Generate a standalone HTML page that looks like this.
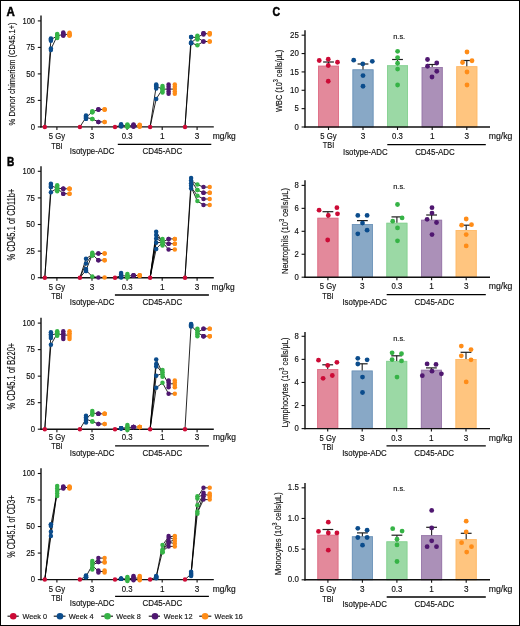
<!DOCTYPE html>
<html><head><meta charset="utf-8"><style>
html,body{margin:0;padding:0;background:#fff;}
body{width:520px;height:626px;overflow:hidden;}
.frame{position:absolute;left:0;top:0;width:520px;height:626px;box-sizing:border-box;border:1px solid #000;}
svg{position:absolute;left:0;top:0;will-change:transform;}
text{font-family:"Liberation Sans", sans-serif;stroke:#111;stroke-width:0.15px;}
</style></head><body>
<svg width="520" height="626" viewBox="0 0 520 626">
<rect x="0" y="0" width="520" height="626" fill="#fff"/>
<line x1="41.0" y1="15.5" x2="41.0" y2="127.5" stroke="#111111" stroke-width="1.4"/>
<line x1="40.4" y1="126.9" x2="213.8" y2="126.9" stroke="#111111" stroke-width="1.4"/>
<line x1="37.8" y1="126.9" x2="41.0" y2="126.9" stroke="#111111" stroke-width="1.1"/>
<text x="35.0" y="129.5" font-size="8.2" text-anchor="end" font-weight="normal" fill="#111111" textLength="4.3" lengthAdjust="spacingAndGlyphs">0</text>
<line x1="37.8" y1="100.4" x2="41.0" y2="100.4" stroke="#111111" stroke-width="1.1"/>
<text x="35.0" y="103.0" font-size="8.2" text-anchor="end" font-weight="normal" fill="#111111" textLength="8.8" lengthAdjust="spacingAndGlyphs">25</text>
<line x1="37.8" y1="73.9" x2="41.0" y2="73.9" stroke="#111111" stroke-width="1.1"/>
<text x="35.0" y="76.5" font-size="8.2" text-anchor="end" font-weight="normal" fill="#111111" textLength="8.8" lengthAdjust="spacingAndGlyphs">50</text>
<line x1="37.8" y1="47.400000000000006" x2="41.0" y2="47.400000000000006" stroke="#111111" stroke-width="1.1"/>
<text x="35.0" y="50.00000000000001" font-size="8.2" text-anchor="end" font-weight="normal" fill="#111111" textLength="8.8" lengthAdjust="spacingAndGlyphs">75</text>
<line x1="37.8" y1="20.900000000000006" x2="41.0" y2="20.900000000000006" stroke="#111111" stroke-width="1.1"/>
<text x="35.0" y="23.500000000000007" font-size="8.2" text-anchor="end" font-weight="normal" fill="#111111" textLength="12.5" lengthAdjust="spacingAndGlyphs">100</text>
<line x1="56.9" y1="126.9" x2="56.9" y2="129.9" stroke="#111111" stroke-width="1.1"/>
<line x1="92.0" y1="126.9" x2="92.0" y2="129.9" stroke="#111111" stroke-width="1.1"/>
<line x1="127.1" y1="126.9" x2="127.1" y2="129.9" stroke="#111111" stroke-width="1.1"/>
<line x1="162.2" y1="126.9" x2="162.2" y2="129.9" stroke="#111111" stroke-width="1.1"/>
<line x1="197.1" y1="126.9" x2="197.1" y2="129.9" stroke="#111111" stroke-width="1.1"/>
<text x="56.9" y="139.1" font-size="8.2" text-anchor="middle" font-weight="normal" fill="#111111" textLength="16.3" lengthAdjust="spacingAndGlyphs">5 Gy</text>
<text x="56.9" y="148.6" font-size="8.2" text-anchor="middle" font-weight="normal" fill="#111111" textLength="11.4" lengthAdjust="spacingAndGlyphs">TBI</text>
<text x="92.0" y="139.1" font-size="8.2" text-anchor="middle" font-weight="normal" fill="#111111">3</text>
<text x="127.1" y="139.1" font-size="8.2" text-anchor="middle" font-weight="normal" fill="#111111" textLength="10.8" lengthAdjust="spacingAndGlyphs">0.3</text>
<text x="162.2" y="139.1" font-size="8.2" text-anchor="middle" font-weight="normal" fill="#111111">1</text>
<text x="197.1" y="139.1" font-size="8.2" text-anchor="middle" font-weight="normal" fill="#111111">3</text>
<text x="212.8" y="139.1" font-size="8.2" text-anchor="start" font-weight="normal" fill="#111111" textLength="23.0" lengthAdjust="spacingAndGlyphs">mg/kg</text>
<line x1="117.8" y1="144.4" x2="211.3" y2="144.4" stroke="#000" stroke-width="1.3"/>
<text x="92.1" y="154.1" font-size="8.2" text-anchor="middle" font-weight="normal" fill="#111111" textLength="44.6" lengthAdjust="spacingAndGlyphs">Isotype-ADC</text>
<text x="162.3" y="154.1" font-size="8.2" text-anchor="middle" font-weight="normal" fill="#111111" textLength="39.7" lengthAdjust="spacingAndGlyphs">CD45-ADC</text>
<text x="15.2" y="73.9" font-size="9.8" text-anchor="middle" font-weight="normal" fill="#111111" textLength="103" lengthAdjust="spacingAndGlyphs" transform="rotate(-90 15.2 73.9)">% Donor chimerism (CD45.1+)</text>
<line x1="44.8" y1="126.9" x2="50.9" y2="39.6" stroke="#000" stroke-width="0.85"/>
<line x1="44.8" y1="126.9" x2="50.9" y2="49.2" stroke="#000" stroke-width="0.85"/>
<line x1="50.9" y1="39.6" x2="57.2" y2="36.0" stroke="#000" stroke-width="0.85"/>
<line x1="50.9" y1="49.2" x2="57.2" y2="36.0" stroke="#000" stroke-width="0.85"/>
<line x1="57.2" y1="36.0" x2="63.3" y2="34.3" stroke="#000" stroke-width="0.85"/>
<line x1="63.3" y1="34.3" x2="69.5" y2="34.5" stroke="#000" stroke-width="0.85"/>
<line x1="79.9" y1="126.9" x2="86.0" y2="117.4" stroke="#000" stroke-width="0.85"/>
<line x1="86.0" y1="117.4" x2="92.3" y2="111.9" stroke="#000" stroke-width="0.85"/>
<line x1="86.0" y1="117.4" x2="92.3" y2="119.0" stroke="#000" stroke-width="0.85"/>
<line x1="92.3" y1="111.9" x2="98.4" y2="109.4" stroke="#000" stroke-width="0.85"/>
<line x1="92.3" y1="119.0" x2="98.4" y2="121.9" stroke="#000" stroke-width="0.85"/>
<line x1="98.4" y1="109.4" x2="104.6" y2="109.5" stroke="#000" stroke-width="0.85"/>
<line x1="98.4" y1="121.9" x2="104.6" y2="121.9" stroke="#000" stroke-width="0.85"/>
<line x1="115.0" y1="126.9" x2="121.1" y2="125.4" stroke="#000" stroke-width="0.85"/>
<line x1="121.1" y1="125.4" x2="127.4" y2="125.8" stroke="#000" stroke-width="0.85"/>
<line x1="127.4" y1="125.8" x2="133.5" y2="125.6" stroke="#000" stroke-width="0.85"/>
<line x1="133.5" y1="125.6" x2="139.7" y2="125.8" stroke="#000" stroke-width="0.85"/>
<line x1="150.1" y1="126.9" x2="156.2" y2="86.2" stroke="#000" stroke-width="0.85"/>
<line x1="150.1" y1="126.9" x2="156.2" y2="98.9" stroke="#000" stroke-width="0.85"/>
<line x1="156.2" y1="86.2" x2="162.5" y2="89.2" stroke="#000" stroke-width="0.85"/>
<line x1="156.2" y1="98.9" x2="162.5" y2="89.2" stroke="#000" stroke-width="0.85"/>
<line x1="162.5" y1="89.2" x2="168.6" y2="89.1" stroke="#000" stroke-width="0.85"/>
<line x1="168.6" y1="89.1" x2="174.8" y2="89.1" stroke="#000" stroke-width="0.85"/>
<line x1="185.0" y1="126.9" x2="191.1" y2="37.1" stroke="#000" stroke-width="0.85"/>
<line x1="185.0" y1="126.9" x2="191.1" y2="42.9" stroke="#000" stroke-width="0.85"/>
<line x1="191.1" y1="37.1" x2="197.4" y2="37.6" stroke="#000" stroke-width="0.85"/>
<line x1="191.1" y1="42.9" x2="197.4" y2="37.6" stroke="#000" stroke-width="0.85"/>
<line x1="191.1" y1="42.9" x2="197.4" y2="45.2" stroke="#000" stroke-width="0.85"/>
<line x1="197.4" y1="37.6" x2="203.5" y2="33.7" stroke="#000" stroke-width="0.85"/>
<line x1="197.4" y1="37.6" x2="203.5" y2="41.5" stroke="#000" stroke-width="0.85"/>
<line x1="197.4" y1="45.2" x2="203.5" y2="41.5" stroke="#000" stroke-width="0.85"/>
<line x1="203.5" y1="33.7" x2="209.7" y2="33.7" stroke="#000" stroke-width="0.85"/>
<line x1="203.5" y1="41.5" x2="209.7" y2="41.5" stroke="#000" stroke-width="0.85"/>
<circle cx="44.8" cy="126.9" r="2.25" fill="#cc0b36"/>
<circle cx="50.9" cy="38.6" r="2.25" fill="#0b4c8c"/>
<circle cx="50.9" cy="39.5" r="2.25" fill="#0b4c8c"/>
<circle cx="50.9" cy="40.7" r="2.25" fill="#0b4c8c"/>
<circle cx="50.9" cy="48.6" r="2.25" fill="#0b4c8c"/>
<circle cx="50.9" cy="49.9" r="2.25" fill="#0b4c8c"/>
<circle cx="57.199999999999996" cy="33.9" r="2.25" fill="#36b346"/>
<circle cx="57.199999999999996" cy="35" r="2.25" fill="#36b346"/>
<circle cx="57.199999999999996" cy="36" r="2.25" fill="#36b346"/>
<circle cx="57.199999999999996" cy="37" r="2.25" fill="#36b346"/>
<circle cx="57.199999999999996" cy="38" r="2.25" fill="#36b346"/>
<circle cx="63.3" cy="32.4" r="2.25" fill="#4f1770"/>
<circle cx="63.3" cy="33.5" r="2.25" fill="#4f1770"/>
<circle cx="63.3" cy="34.5" r="2.25" fill="#4f1770"/>
<circle cx="63.3" cy="35.6" r="2.25" fill="#4f1770"/>
<circle cx="63.3" cy="35.6" r="2.25" fill="#4f1770"/>
<circle cx="69.5" cy="32.8" r="2.25" fill="#ff8c17"/>
<circle cx="69.5" cy="33.8" r="2.25" fill="#ff8c17"/>
<circle cx="69.5" cy="34.7" r="2.25" fill="#ff8c17"/>
<circle cx="69.5" cy="35.6" r="2.25" fill="#ff8c17"/>
<circle cx="69.5" cy="35.6" r="2.25" fill="#ff8c17"/>
<circle cx="79.9" cy="126.9" r="2.25" fill="#cc0b36"/>
<circle cx="86.0" cy="115.4" r="2.25" fill="#0b4c8c"/>
<circle cx="86.0" cy="116.5" r="2.25" fill="#0b4c8c"/>
<circle cx="86.0" cy="117.5" r="2.25" fill="#0b4c8c"/>
<circle cx="86.0" cy="118.8" r="2.25" fill="#0b4c8c"/>
<circle cx="86.0" cy="118.8" r="2.25" fill="#0b4c8c"/>
<circle cx="92.3" cy="111.2" r="2.25" fill="#36b346"/>
<circle cx="92.3" cy="112.2" r="2.25" fill="#36b346"/>
<circle cx="92.3" cy="112.2" r="2.25" fill="#36b346"/>
<circle cx="92.3" cy="119" r="2.25" fill="#36b346"/>
<circle cx="92.3" cy="119" r="2.25" fill="#36b346"/>
<circle cx="98.4" cy="109.4" r="2.25" fill="#4f1770"/>
<circle cx="98.4" cy="109.4" r="2.25" fill="#4f1770"/>
<circle cx="98.4" cy="109.4" r="2.25" fill="#4f1770"/>
<circle cx="98.4" cy="121.9" r="2.25" fill="#4f1770"/>
<circle cx="98.4" cy="121.9" r="2.25" fill="#4f1770"/>
<circle cx="104.6" cy="109.5" r="2.25" fill="#ff8c17"/>
<circle cx="104.6" cy="109.5" r="2.25" fill="#ff8c17"/>
<circle cx="104.6" cy="109.5" r="2.25" fill="#ff8c17"/>
<circle cx="104.6" cy="121.9" r="2.25" fill="#ff8c17"/>
<circle cx="104.6" cy="121.9" r="2.25" fill="#ff8c17"/>
<circle cx="115.0" cy="126.9" r="2.25" fill="#cc0b36"/>
<circle cx="121.1" cy="124.2" r="2.25" fill="#0b4c8c"/>
<circle cx="121.1" cy="125" r="2.25" fill="#0b4c8c"/>
<circle cx="121.1" cy="125.5" r="2.25" fill="#0b4c8c"/>
<circle cx="121.1" cy="126" r="2.25" fill="#0b4c8c"/>
<circle cx="121.1" cy="126.5" r="2.25" fill="#0b4c8c"/>
<circle cx="127.39999999999999" cy="124.6" r="2.25" fill="#36b346"/>
<circle cx="127.39999999999999" cy="125.2" r="2.25" fill="#36b346"/>
<circle cx="127.39999999999999" cy="125.8" r="2.25" fill="#36b346"/>
<circle cx="127.39999999999999" cy="126.4" r="2.25" fill="#36b346"/>
<circle cx="127.39999999999999" cy="127" r="2.25" fill="#36b346"/>
<circle cx="133.5" cy="124.5" r="2.25" fill="#4f1770"/>
<circle cx="133.5" cy="125" r="2.25" fill="#4f1770"/>
<circle cx="133.5" cy="125.6" r="2.25" fill="#4f1770"/>
<circle cx="133.5" cy="126.2" r="2.25" fill="#4f1770"/>
<circle cx="133.5" cy="126.8" r="2.25" fill="#4f1770"/>
<circle cx="139.7" cy="124.8" r="2.25" fill="#ff8c17"/>
<circle cx="139.7" cy="125.3" r="2.25" fill="#ff8c17"/>
<circle cx="139.7" cy="125.8" r="2.25" fill="#ff8c17"/>
<circle cx="139.7" cy="126.3" r="2.25" fill="#ff8c17"/>
<circle cx="139.7" cy="126.8" r="2.25" fill="#ff8c17"/>
<circle cx="150.1" cy="126.9" r="2.25" fill="#cc0b36"/>
<circle cx="156.2" cy="84.5" r="2.25" fill="#0b4c8c"/>
<circle cx="156.2" cy="85.5" r="2.25" fill="#0b4c8c"/>
<circle cx="156.2" cy="86.5" r="2.25" fill="#0b4c8c"/>
<circle cx="156.2" cy="88.5" r="2.25" fill="#0b4c8c"/>
<circle cx="156.2" cy="98.9" r="2.25" fill="#0b4c8c"/>
<circle cx="162.5" cy="85.9" r="2.25" fill="#36b346"/>
<circle cx="162.5" cy="87.5" r="2.25" fill="#36b346"/>
<circle cx="162.5" cy="89.2" r="2.25" fill="#36b346"/>
<circle cx="162.5" cy="90.8" r="2.25" fill="#36b346"/>
<circle cx="162.5" cy="92.5" r="2.25" fill="#36b346"/>
<circle cx="168.6" cy="84.5" r="2.25" fill="#4f1770"/>
<circle cx="168.6" cy="86.8" r="2.25" fill="#4f1770"/>
<circle cx="168.6" cy="89.1" r="2.25" fill="#4f1770"/>
<circle cx="168.6" cy="91.5" r="2.25" fill="#4f1770"/>
<circle cx="168.6" cy="93.8" r="2.25" fill="#4f1770"/>
<circle cx="174.79999999999998" cy="84.5" r="2.25" fill="#ff8c17"/>
<circle cx="174.79999999999998" cy="86.8" r="2.25" fill="#ff8c17"/>
<circle cx="174.79999999999998" cy="89.1" r="2.25" fill="#ff8c17"/>
<circle cx="174.79999999999998" cy="91.5" r="2.25" fill="#ff8c17"/>
<circle cx="174.79999999999998" cy="93.8" r="2.25" fill="#ff8c17"/>
<circle cx="185.0" cy="126.9" r="2.25" fill="#cc0b36"/>
<circle cx="191.1" cy="37.1" r="2.25" fill="#0b4c8c"/>
<circle cx="191.1" cy="37.1" r="2.25" fill="#0b4c8c"/>
<circle cx="191.1" cy="42.5" r="2.25" fill="#0b4c8c"/>
<circle cx="191.1" cy="43" r="2.25" fill="#0b4c8c"/>
<circle cx="191.1" cy="43.2" r="2.25" fill="#0b4c8c"/>
<circle cx="197.4" cy="35.8" r="2.25" fill="#36b346"/>
<circle cx="197.4" cy="37" r="2.25" fill="#36b346"/>
<circle cx="197.4" cy="38.2" r="2.25" fill="#36b346"/>
<circle cx="197.4" cy="39.4" r="2.25" fill="#36b346"/>
<circle cx="197.4" cy="45.2" r="2.25" fill="#36b346"/>
<circle cx="203.5" cy="33.3" r="2.25" fill="#4f1770"/>
<circle cx="203.5" cy="33.3" r="2.25" fill="#4f1770"/>
<circle cx="203.5" cy="34.4" r="2.25" fill="#4f1770"/>
<circle cx="203.5" cy="41.5" r="2.25" fill="#4f1770"/>
<circle cx="203.5" cy="41.5" r="2.25" fill="#4f1770"/>
<circle cx="209.7" cy="33.3" r="2.25" fill="#ff8c17"/>
<circle cx="209.7" cy="33.3" r="2.25" fill="#ff8c17"/>
<circle cx="209.7" cy="34.4" r="2.25" fill="#ff8c17"/>
<circle cx="209.7" cy="41.5" r="2.25" fill="#ff8c17"/>
<circle cx="209.7" cy="41.5" r="2.25" fill="#ff8c17"/>
<line x1="41.0" y1="166.3" x2="41.0" y2="278.3" stroke="#111111" stroke-width="1.4"/>
<line x1="40.4" y1="277.7" x2="213.8" y2="277.7" stroke="#111111" stroke-width="1.4"/>
<line x1="37.8" y1="277.7" x2="41.0" y2="277.7" stroke="#111111" stroke-width="1.1"/>
<text x="35.0" y="280.3" font-size="8.2" text-anchor="end" font-weight="normal" fill="#111111" textLength="4.3" lengthAdjust="spacingAndGlyphs">0</text>
<line x1="37.8" y1="251.1" x2="41.0" y2="251.1" stroke="#111111" stroke-width="1.1"/>
<text x="35.0" y="253.7" font-size="8.2" text-anchor="end" font-weight="normal" fill="#111111" textLength="8.8" lengthAdjust="spacingAndGlyphs">25</text>
<line x1="37.8" y1="224.5" x2="41.0" y2="224.5" stroke="#111111" stroke-width="1.1"/>
<text x="35.0" y="227.1" font-size="8.2" text-anchor="end" font-weight="normal" fill="#111111" textLength="8.8" lengthAdjust="spacingAndGlyphs">50</text>
<line x1="37.8" y1="197.9" x2="41.0" y2="197.9" stroke="#111111" stroke-width="1.1"/>
<text x="35.0" y="200.5" font-size="8.2" text-anchor="end" font-weight="normal" fill="#111111" textLength="8.8" lengthAdjust="spacingAndGlyphs">75</text>
<line x1="37.8" y1="171.3" x2="41.0" y2="171.3" stroke="#111111" stroke-width="1.1"/>
<text x="35.0" y="173.9" font-size="8.2" text-anchor="end" font-weight="normal" fill="#111111" textLength="12.5" lengthAdjust="spacingAndGlyphs">100</text>
<line x1="56.9" y1="277.7" x2="56.9" y2="280.7" stroke="#111111" stroke-width="1.1"/>
<line x1="92.0" y1="277.7" x2="92.0" y2="280.7" stroke="#111111" stroke-width="1.1"/>
<line x1="127.1" y1="277.7" x2="127.1" y2="280.7" stroke="#111111" stroke-width="1.1"/>
<line x1="162.2" y1="277.7" x2="162.2" y2="280.7" stroke="#111111" stroke-width="1.1"/>
<line x1="197.1" y1="277.7" x2="197.1" y2="280.7" stroke="#111111" stroke-width="1.1"/>
<text x="56.9" y="289.8" font-size="8.2" text-anchor="middle" font-weight="normal" fill="#111111" textLength="16.3" lengthAdjust="spacingAndGlyphs">5 Gy</text>
<text x="56.9" y="299.3" font-size="8.2" text-anchor="middle" font-weight="normal" fill="#111111" textLength="11.4" lengthAdjust="spacingAndGlyphs">TBI</text>
<text x="92.0" y="289.8" font-size="8.2" text-anchor="middle" font-weight="normal" fill="#111111">3</text>
<text x="127.1" y="289.8" font-size="8.2" text-anchor="middle" font-weight="normal" fill="#111111" textLength="10.8" lengthAdjust="spacingAndGlyphs">0.3</text>
<text x="162.2" y="289.8" font-size="8.2" text-anchor="middle" font-weight="normal" fill="#111111">1</text>
<text x="197.1" y="289.8" font-size="8.2" text-anchor="middle" font-weight="normal" fill="#111111">3</text>
<text x="211.6" y="289.8" font-size="8.2" text-anchor="start" font-weight="normal" fill="#111111" textLength="23.0" lengthAdjust="spacingAndGlyphs">mg/kg</text>
<line x1="114.9" y1="295.0" x2="208.9" y2="295.0" stroke="#000" stroke-width="1.3"/>
<text x="92.1" y="304.8" font-size="8.2" text-anchor="middle" font-weight="normal" fill="#111111" textLength="44.6" lengthAdjust="spacingAndGlyphs">Isotype-ADC</text>
<text x="162.3" y="304.8" font-size="8.2" text-anchor="middle" font-weight="normal" fill="#111111" textLength="39.7" lengthAdjust="spacingAndGlyphs">CD45-ADC</text>
<text x="15.2" y="224.5" font-size="10.8" text-anchor="middle" font-weight="normal" fill="#111111" textLength="71.8" lengthAdjust="spacingAndGlyphs" transform="rotate(-90 15.2 224.5)">% CD45.1 of CD11b+</text>
<line x1="44.8" y1="277.7" x2="50.9" y2="185.7" stroke="#000" stroke-width="0.85"/>
<line x1="44.8" y1="277.7" x2="50.9" y2="192.3" stroke="#000" stroke-width="0.85"/>
<line x1="50.9" y1="185.7" x2="57.2" y2="188.2" stroke="#000" stroke-width="0.85"/>
<line x1="50.9" y1="192.3" x2="57.2" y2="188.2" stroke="#000" stroke-width="0.85"/>
<line x1="57.2" y1="188.2" x2="63.3" y2="188.8" stroke="#000" stroke-width="0.85"/>
<line x1="57.2" y1="188.2" x2="63.3" y2="193.7" stroke="#000" stroke-width="0.85"/>
<line x1="63.3" y1="188.8" x2="69.5" y2="188.8" stroke="#000" stroke-width="0.85"/>
<line x1="63.3" y1="193.7" x2="69.5" y2="193.7" stroke="#000" stroke-width="0.85"/>
<line x1="79.9" y1="277.7" x2="86.0" y2="258.8" stroke="#000" stroke-width="0.85"/>
<line x1="79.9" y1="277.7" x2="86.0" y2="263.6" stroke="#000" stroke-width="0.85"/>
<line x1="79.9" y1="277.7" x2="86.0" y2="270.3" stroke="#000" stroke-width="0.85"/>
<line x1="86.0" y1="258.8" x2="92.3" y2="254.4" stroke="#000" stroke-width="0.85"/>
<line x1="86.0" y1="263.6" x2="92.3" y2="254.4" stroke="#000" stroke-width="0.85"/>
<line x1="86.0" y1="270.3" x2="92.3" y2="254.4" stroke="#000" stroke-width="0.85"/>
<line x1="86.0" y1="270.3" x2="92.3" y2="276.6" stroke="#000" stroke-width="0.85"/>
<line x1="92.3" y1="254.4" x2="98.4" y2="253.5" stroke="#000" stroke-width="0.85"/>
<line x1="92.3" y1="254.4" x2="98.4" y2="260.2" stroke="#000" stroke-width="0.85"/>
<line x1="92.3" y1="276.6" x2="98.4" y2="277.4" stroke="#000" stroke-width="0.85"/>
<line x1="98.4" y1="253.5" x2="104.6" y2="253.5" stroke="#000" stroke-width="0.85"/>
<line x1="98.4" y1="260.2" x2="104.6" y2="260.2" stroke="#000" stroke-width="0.85"/>
<line x1="98.4" y1="277.4" x2="104.6" y2="277.4" stroke="#000" stroke-width="0.85"/>
<line x1="115.0" y1="277.7" x2="121.1" y2="275.6" stroke="#000" stroke-width="0.85"/>
<line x1="121.1" y1="275.6" x2="127.4" y2="276.1" stroke="#000" stroke-width="0.85"/>
<line x1="127.4" y1="276.1" x2="133.5" y2="275.5" stroke="#000" stroke-width="0.85"/>
<line x1="133.5" y1="275.5" x2="139.7" y2="275.5" stroke="#000" stroke-width="0.85"/>
<line x1="150.1" y1="277.7" x2="156.2" y2="231.8" stroke="#000" stroke-width="0.85"/>
<line x1="150.1" y1="277.7" x2="156.2" y2="235.0" stroke="#000" stroke-width="0.85"/>
<line x1="150.1" y1="277.7" x2="156.2" y2="238.5" stroke="#000" stroke-width="0.85"/>
<line x1="150.1" y1="277.7" x2="156.2" y2="242.7" stroke="#000" stroke-width="0.85"/>
<line x1="150.1" y1="277.7" x2="156.2" y2="248.9" stroke="#000" stroke-width="0.85"/>
<line x1="156.2" y1="231.8" x2="162.5" y2="242.2" stroke="#000" stroke-width="0.85"/>
<line x1="156.2" y1="235.0" x2="162.5" y2="242.2" stroke="#000" stroke-width="0.85"/>
<line x1="156.2" y1="238.5" x2="162.5" y2="242.2" stroke="#000" stroke-width="0.85"/>
<line x1="156.2" y1="242.7" x2="162.5" y2="242.2" stroke="#000" stroke-width="0.85"/>
<line x1="156.2" y1="248.9" x2="162.5" y2="242.2" stroke="#000" stroke-width="0.85"/>
<line x1="162.5" y1="242.2" x2="168.6" y2="238.9" stroke="#000" stroke-width="0.85"/>
<line x1="162.5" y1="242.2" x2="168.6" y2="243.7" stroke="#000" stroke-width="0.85"/>
<line x1="162.5" y1="242.2" x2="168.6" y2="249.5" stroke="#000" stroke-width="0.85"/>
<line x1="168.6" y1="238.9" x2="174.8" y2="238.9" stroke="#000" stroke-width="0.85"/>
<line x1="168.6" y1="243.7" x2="174.8" y2="243.7" stroke="#000" stroke-width="0.85"/>
<line x1="168.6" y1="249.5" x2="174.8" y2="249.5" stroke="#000" stroke-width="0.85"/>
<line x1="185.0" y1="277.7" x2="191.1" y2="180.6" stroke="#000" stroke-width="0.85"/>
<line x1="185.0" y1="277.7" x2="191.1" y2="187.1" stroke="#000" stroke-width="0.85"/>
<line x1="191.1" y1="180.6" x2="197.4" y2="184.6" stroke="#000" stroke-width="0.85"/>
<line x1="191.1" y1="180.6" x2="197.4" y2="190.0" stroke="#000" stroke-width="0.85"/>
<line x1="191.1" y1="187.1" x2="197.4" y2="195.7" stroke="#000" stroke-width="0.85"/>
<line x1="191.1" y1="187.1" x2="197.4" y2="201.1" stroke="#000" stroke-width="0.85"/>
<line x1="197.4" y1="184.6" x2="203.5" y2="187.1" stroke="#000" stroke-width="0.85"/>
<line x1="197.4" y1="190.0" x2="203.5" y2="192.8" stroke="#000" stroke-width="0.85"/>
<line x1="197.4" y1="195.7" x2="203.5" y2="199.0" stroke="#000" stroke-width="0.85"/>
<line x1="197.4" y1="201.1" x2="203.5" y2="204.9" stroke="#000" stroke-width="0.85"/>
<line x1="203.5" y1="187.1" x2="209.7" y2="187.1" stroke="#000" stroke-width="0.85"/>
<line x1="203.5" y1="192.8" x2="209.7" y2="192.8" stroke="#000" stroke-width="0.85"/>
<line x1="203.5" y1="199.0" x2="209.7" y2="199.0" stroke="#000" stroke-width="0.85"/>
<line x1="203.5" y1="204.9" x2="209.7" y2="204.9" stroke="#000" stroke-width="0.85"/>
<circle cx="44.8" cy="277.7" r="2.25" fill="#cc0b36"/>
<circle cx="50.9" cy="183.8" r="2.25" fill="#0b4c8c"/>
<circle cx="50.9" cy="185" r="2.25" fill="#0b4c8c"/>
<circle cx="50.9" cy="186.9" r="2.25" fill="#0b4c8c"/>
<circle cx="50.9" cy="186.9" r="2.25" fill="#0b4c8c"/>
<circle cx="50.9" cy="192.3" r="2.25" fill="#0b4c8c"/>
<circle cx="57.199999999999996" cy="185.2" r="2.25" fill="#36b346"/>
<circle cx="57.199999999999996" cy="186.7" r="2.25" fill="#36b346"/>
<circle cx="57.199999999999996" cy="188.2" r="2.25" fill="#36b346"/>
<circle cx="57.199999999999996" cy="189.7" r="2.25" fill="#36b346"/>
<circle cx="57.199999999999996" cy="191.2" r="2.25" fill="#36b346"/>
<circle cx="63.3" cy="188.8" r="2.25" fill="#4f1770"/>
<circle cx="63.3" cy="188.8" r="2.25" fill="#4f1770"/>
<circle cx="63.3" cy="188.8" r="2.25" fill="#4f1770"/>
<circle cx="63.3" cy="193.7" r="2.25" fill="#4f1770"/>
<circle cx="63.3" cy="193.7" r="2.25" fill="#4f1770"/>
<circle cx="69.5" cy="188.8" r="2.25" fill="#ff8c17"/>
<circle cx="69.5" cy="188.8" r="2.25" fill="#ff8c17"/>
<circle cx="69.5" cy="188.8" r="2.25" fill="#ff8c17"/>
<circle cx="69.5" cy="193.7" r="2.25" fill="#ff8c17"/>
<circle cx="69.5" cy="193.7" r="2.25" fill="#ff8c17"/>
<circle cx="79.9" cy="277.7" r="2.25" fill="#cc0b36"/>
<circle cx="86.0" cy="258.8" r="2.25" fill="#0b4c8c"/>
<circle cx="86.0" cy="263.6" r="2.25" fill="#0b4c8c"/>
<circle cx="86.0" cy="268.9" r="2.25" fill="#0b4c8c"/>
<circle cx="86.0" cy="271" r="2.25" fill="#0b4c8c"/>
<circle cx="86.0" cy="271" r="2.25" fill="#0b4c8c"/>
<circle cx="92.3" cy="252.8" r="2.25" fill="#36b346"/>
<circle cx="92.3" cy="254" r="2.25" fill="#36b346"/>
<circle cx="92.3" cy="255.5" r="2.25" fill="#36b346"/>
<circle cx="92.3" cy="255.5" r="2.25" fill="#36b346"/>
<circle cx="92.3" cy="276.6" r="2.25" fill="#36b346"/>
<circle cx="98.4" cy="253.5" r="2.25" fill="#4f1770"/>
<circle cx="98.4" cy="253.5" r="2.25" fill="#4f1770"/>
<circle cx="98.4" cy="260.2" r="2.25" fill="#4f1770"/>
<circle cx="98.4" cy="260.2" r="2.25" fill="#4f1770"/>
<circle cx="98.4" cy="277.4" r="2.25" fill="#4f1770"/>
<circle cx="104.6" cy="253.5" r="2.25" fill="#ff8c17"/>
<circle cx="104.6" cy="253.5" r="2.25" fill="#ff8c17"/>
<circle cx="104.6" cy="260.2" r="2.25" fill="#ff8c17"/>
<circle cx="104.6" cy="260.2" r="2.25" fill="#ff8c17"/>
<circle cx="104.6" cy="277.4" r="2.25" fill="#ff8c17"/>
<circle cx="115.0" cy="277.7" r="2.25" fill="#cc0b36"/>
<circle cx="121.1" cy="273" r="2.25" fill="#0b4c8c"/>
<circle cx="121.1" cy="274.5" r="2.25" fill="#0b4c8c"/>
<circle cx="121.1" cy="276" r="2.25" fill="#0b4c8c"/>
<circle cx="121.1" cy="277" r="2.25" fill="#0b4c8c"/>
<circle cx="121.1" cy="277.5" r="2.25" fill="#0b4c8c"/>
<circle cx="127.39999999999999" cy="274" r="2.25" fill="#36b346"/>
<circle cx="127.39999999999999" cy="275.5" r="2.25" fill="#36b346"/>
<circle cx="127.39999999999999" cy="276.5" r="2.25" fill="#36b346"/>
<circle cx="127.39999999999999" cy="277" r="2.25" fill="#36b346"/>
<circle cx="127.39999999999999" cy="277.5" r="2.25" fill="#36b346"/>
<circle cx="133.5" cy="275.5" r="2.25" fill="#4f1770"/>
<circle cx="133.5" cy="275.5" r="2.25" fill="#4f1770"/>
<circle cx="133.5" cy="275.5" r="2.25" fill="#4f1770"/>
<circle cx="133.5" cy="275.5" r="2.25" fill="#4f1770"/>
<circle cx="133.5" cy="275.5" r="2.25" fill="#4f1770"/>
<circle cx="139.7" cy="275.5" r="2.25" fill="#ff8c17"/>
<circle cx="139.7" cy="275.5" r="2.25" fill="#ff8c17"/>
<circle cx="139.7" cy="275.5" r="2.25" fill="#ff8c17"/>
<circle cx="139.7" cy="275.5" r="2.25" fill="#ff8c17"/>
<circle cx="139.7" cy="275.5" r="2.25" fill="#ff8c17"/>
<circle cx="150.1" cy="277.7" r="2.25" fill="#cc0b36"/>
<circle cx="156.2" cy="231.8" r="2.25" fill="#0b4c8c"/>
<circle cx="156.2" cy="235" r="2.25" fill="#0b4c8c"/>
<circle cx="156.2" cy="238.5" r="2.25" fill="#0b4c8c"/>
<circle cx="156.2" cy="242.7" r="2.25" fill="#0b4c8c"/>
<circle cx="156.2" cy="248.9" r="2.25" fill="#0b4c8c"/>
<circle cx="162.5" cy="238.9" r="2.25" fill="#36b346"/>
<circle cx="162.5" cy="240.5" r="2.25" fill="#36b346"/>
<circle cx="162.5" cy="242.2" r="2.25" fill="#36b346"/>
<circle cx="162.5" cy="243.9" r="2.25" fill="#36b346"/>
<circle cx="162.5" cy="245.6" r="2.25" fill="#36b346"/>
<circle cx="168.6" cy="238.9" r="2.25" fill="#4f1770"/>
<circle cx="168.6" cy="238.9" r="2.25" fill="#4f1770"/>
<circle cx="168.6" cy="243.7" r="2.25" fill="#4f1770"/>
<circle cx="168.6" cy="243.7" r="2.25" fill="#4f1770"/>
<circle cx="168.6" cy="249.5" r="2.25" fill="#4f1770"/>
<circle cx="174.79999999999998" cy="238.9" r="2.25" fill="#ff8c17"/>
<circle cx="174.79999999999998" cy="238.9" r="2.25" fill="#ff8c17"/>
<circle cx="174.79999999999998" cy="243.7" r="2.25" fill="#ff8c17"/>
<circle cx="174.79999999999998" cy="243.7" r="2.25" fill="#ff8c17"/>
<circle cx="174.79999999999998" cy="249.5" r="2.25" fill="#ff8c17"/>
<circle cx="185.0" cy="277.7" r="2.25" fill="#cc0b36"/>
<circle cx="191.1" cy="178" r="2.25" fill="#0b4c8c"/>
<circle cx="191.1" cy="180.6" r="2.25" fill="#0b4c8c"/>
<circle cx="191.1" cy="183.2" r="2.25" fill="#0b4c8c"/>
<circle cx="191.1" cy="185.8" r="2.25" fill="#0b4c8c"/>
<circle cx="191.1" cy="188.4" r="2.25" fill="#0b4c8c"/>
<circle cx="197.4" cy="184.6" r="2.25" fill="#36b346"/>
<circle cx="197.4" cy="190" r="2.25" fill="#36b346"/>
<circle cx="197.4" cy="190" r="2.25" fill="#36b346"/>
<circle cx="197.4" cy="195.7" r="2.25" fill="#36b346"/>
<circle cx="197.4" cy="201.1" r="2.25" fill="#36b346"/>
<circle cx="203.5" cy="187.1" r="2.25" fill="#4f1770"/>
<circle cx="203.5" cy="192.8" r="2.25" fill="#4f1770"/>
<circle cx="203.5" cy="192.8" r="2.25" fill="#4f1770"/>
<circle cx="203.5" cy="199" r="2.25" fill="#4f1770"/>
<circle cx="203.5" cy="204.9" r="2.25" fill="#4f1770"/>
<circle cx="209.7" cy="187.1" r="2.25" fill="#ff8c17"/>
<circle cx="209.7" cy="192.8" r="2.25" fill="#ff8c17"/>
<circle cx="209.7" cy="192.8" r="2.25" fill="#ff8c17"/>
<circle cx="209.7" cy="199" r="2.25" fill="#ff8c17"/>
<circle cx="209.7" cy="204.9" r="2.25" fill="#ff8c17"/>
<line x1="41.0" y1="317.7" x2="41.0" y2="429.8" stroke="#111111" stroke-width="1.4"/>
<line x1="40.4" y1="429.2" x2="213.8" y2="429.2" stroke="#111111" stroke-width="1.4"/>
<line x1="37.8" y1="429.2" x2="41.0" y2="429.2" stroke="#111111" stroke-width="1.1"/>
<text x="35.0" y="431.8" font-size="8.2" text-anchor="end" font-weight="normal" fill="#111111" textLength="4.3" lengthAdjust="spacingAndGlyphs">0</text>
<line x1="37.8" y1="402.675" x2="41.0" y2="402.675" stroke="#111111" stroke-width="1.1"/>
<text x="35.0" y="405.27500000000003" font-size="8.2" text-anchor="end" font-weight="normal" fill="#111111" textLength="8.8" lengthAdjust="spacingAndGlyphs">25</text>
<line x1="37.8" y1="376.15" x2="41.0" y2="376.15" stroke="#111111" stroke-width="1.1"/>
<text x="35.0" y="378.75" font-size="8.2" text-anchor="end" font-weight="normal" fill="#111111" textLength="8.8" lengthAdjust="spacingAndGlyphs">50</text>
<line x1="37.8" y1="349.625" x2="41.0" y2="349.625" stroke="#111111" stroke-width="1.1"/>
<text x="35.0" y="352.225" font-size="8.2" text-anchor="end" font-weight="normal" fill="#111111" textLength="8.8" lengthAdjust="spacingAndGlyphs">75</text>
<line x1="37.8" y1="323.1" x2="41.0" y2="323.1" stroke="#111111" stroke-width="1.1"/>
<text x="35.0" y="325.70000000000005" font-size="8.2" text-anchor="end" font-weight="normal" fill="#111111" textLength="12.5" lengthAdjust="spacingAndGlyphs">100</text>
<line x1="56.9" y1="429.2" x2="56.9" y2="432.2" stroke="#111111" stroke-width="1.1"/>
<line x1="92.0" y1="429.2" x2="92.0" y2="432.2" stroke="#111111" stroke-width="1.1"/>
<line x1="127.1" y1="429.2" x2="127.1" y2="432.2" stroke="#111111" stroke-width="1.1"/>
<line x1="162.2" y1="429.2" x2="162.2" y2="432.2" stroke="#111111" stroke-width="1.1"/>
<line x1="197.1" y1="429.2" x2="197.1" y2="432.2" stroke="#111111" stroke-width="1.1"/>
<text x="56.9" y="440.0" font-size="8.2" text-anchor="middle" font-weight="normal" fill="#111111" textLength="16.3" lengthAdjust="spacingAndGlyphs">5 Gy</text>
<text x="56.9" y="449.09999999999997" font-size="8.2" text-anchor="middle" font-weight="normal" fill="#111111" textLength="11.4" lengthAdjust="spacingAndGlyphs">TBI</text>
<text x="92.0" y="440.0" font-size="8.2" text-anchor="middle" font-weight="normal" fill="#111111">3</text>
<text x="127.1" y="440.0" font-size="8.2" text-anchor="middle" font-weight="normal" fill="#111111" textLength="10.8" lengthAdjust="spacingAndGlyphs">0.3</text>
<text x="162.2" y="440.0" font-size="8.2" text-anchor="middle" font-weight="normal" fill="#111111">1</text>
<text x="197.1" y="440.0" font-size="8.2" text-anchor="middle" font-weight="normal" fill="#111111">3</text>
<text x="213.0" y="440.0" font-size="8.2" text-anchor="start" font-weight="normal" fill="#111111" textLength="23.0" lengthAdjust="spacingAndGlyphs">mg/kg</text>
<line x1="115.1" y1="445.8" x2="208.9" y2="445.8" stroke="#000" stroke-width="1.3"/>
<text x="92.1" y="455.59999999999997" font-size="8.2" text-anchor="middle" font-weight="normal" fill="#111111" textLength="44.6" lengthAdjust="spacingAndGlyphs">Isotype-ADC</text>
<text x="162.3" y="455.59999999999997" font-size="8.2" text-anchor="middle" font-weight="normal" fill="#111111" textLength="39.7" lengthAdjust="spacingAndGlyphs">CD45-ADC</text>
<text x="15.2" y="376.15" font-size="10.8" text-anchor="middle" font-weight="normal" fill="#111111" textLength="66.7" lengthAdjust="spacingAndGlyphs" transform="rotate(-90 15.2 376.15)">% CD45.1 of B220+</text>
<line x1="44.8" y1="429.2" x2="50.9" y2="335.1" stroke="#000" stroke-width="0.85"/>
<line x1="44.8" y1="429.2" x2="50.9" y2="344.7" stroke="#000" stroke-width="0.85"/>
<line x1="50.9" y1="335.1" x2="57.2" y2="333.5" stroke="#000" stroke-width="0.85"/>
<line x1="50.9" y1="344.7" x2="57.2" y2="333.5" stroke="#000" stroke-width="0.85"/>
<line x1="57.2" y1="333.5" x2="63.3" y2="335.1" stroke="#000" stroke-width="0.85"/>
<line x1="63.3" y1="335.1" x2="69.5" y2="335.1" stroke="#000" stroke-width="0.85"/>
<line x1="79.9" y1="429.2" x2="86.0" y2="419.1" stroke="#000" stroke-width="0.85"/>
<line x1="86.0" y1="419.1" x2="92.3" y2="412.9" stroke="#000" stroke-width="0.85"/>
<line x1="86.0" y1="419.1" x2="92.3" y2="421.5" stroke="#000" stroke-width="0.85"/>
<line x1="92.3" y1="412.9" x2="98.4" y2="413.8" stroke="#000" stroke-width="0.85"/>
<line x1="92.3" y1="421.5" x2="98.4" y2="424.0" stroke="#000" stroke-width="0.85"/>
<line x1="98.4" y1="413.8" x2="104.6" y2="413.8" stroke="#000" stroke-width="0.85"/>
<line x1="98.4" y1="424.0" x2="104.6" y2="424.0" stroke="#000" stroke-width="0.85"/>
<line x1="115.0" y1="429.2" x2="121.1" y2="428.2" stroke="#000" stroke-width="0.85"/>
<line x1="121.1" y1="428.2" x2="127.4" y2="427.7" stroke="#000" stroke-width="0.85"/>
<line x1="127.4" y1="427.7" x2="133.5" y2="427.0" stroke="#000" stroke-width="0.85"/>
<line x1="133.5" y1="427.0" x2="139.7" y2="427.0" stroke="#000" stroke-width="0.85"/>
<line x1="150.1" y1="429.2" x2="156.2" y2="359.4" stroke="#000" stroke-width="0.85"/>
<line x1="150.1" y1="429.2" x2="156.2" y2="365.2" stroke="#000" stroke-width="0.85"/>
<line x1="150.1" y1="429.2" x2="156.2" y2="375.8" stroke="#000" stroke-width="0.85"/>
<line x1="150.1" y1="429.2" x2="156.2" y2="387.8" stroke="#000" stroke-width="0.85"/>
<line x1="156.2" y1="359.4" x2="162.5" y2="373.4" stroke="#000" stroke-width="0.85"/>
<line x1="156.2" y1="365.2" x2="162.5" y2="373.4" stroke="#000" stroke-width="0.85"/>
<line x1="156.2" y1="375.8" x2="162.5" y2="373.4" stroke="#000" stroke-width="0.85"/>
<line x1="156.2" y1="387.8" x2="162.5" y2="382.8" stroke="#000" stroke-width="0.85"/>
<line x1="162.5" y1="373.4" x2="168.6" y2="383.8" stroke="#000" stroke-width="0.85"/>
<line x1="162.5" y1="382.8" x2="168.6" y2="393.8" stroke="#000" stroke-width="0.85"/>
<line x1="168.6" y1="383.8" x2="174.8" y2="383.8" stroke="#000" stroke-width="0.85"/>
<line x1="168.6" y1="393.8" x2="174.8" y2="393.8" stroke="#000" stroke-width="0.85"/>
<line x1="185.0" y1="429.2" x2="191.1" y2="325.3" stroke="#000" stroke-width="0.85"/>
<line x1="191.1" y1="325.3" x2="197.4" y2="332.5" stroke="#000" stroke-width="0.85"/>
<line x1="197.4" y1="332.5" x2="203.5" y2="328.8" stroke="#000" stroke-width="0.85"/>
<line x1="197.4" y1="332.5" x2="203.5" y2="336.2" stroke="#000" stroke-width="0.85"/>
<line x1="203.5" y1="328.8" x2="209.7" y2="328.8" stroke="#000" stroke-width="0.85"/>
<line x1="203.5" y1="336.2" x2="209.7" y2="336.2" stroke="#000" stroke-width="0.85"/>
<circle cx="44.8" cy="429.2" r="2.25" fill="#cc0b36"/>
<circle cx="50.9" cy="332.3" r="2.25" fill="#0b4c8c"/>
<circle cx="50.9" cy="334.2" r="2.25" fill="#0b4c8c"/>
<circle cx="50.9" cy="336.1" r="2.25" fill="#0b4c8c"/>
<circle cx="50.9" cy="338" r="2.25" fill="#0b4c8c"/>
<circle cx="50.9" cy="344.7" r="2.25" fill="#0b4c8c"/>
<circle cx="57.199999999999996" cy="331.3" r="2.25" fill="#36b346"/>
<circle cx="57.199999999999996" cy="332.4" r="2.25" fill="#36b346"/>
<circle cx="57.199999999999996" cy="333.5" r="2.25" fill="#36b346"/>
<circle cx="57.199999999999996" cy="334.6" r="2.25" fill="#36b346"/>
<circle cx="57.199999999999996" cy="335.7" r="2.25" fill="#36b346"/>
<circle cx="63.3" cy="331.3" r="2.25" fill="#4f1770"/>
<circle cx="63.3" cy="333.2" r="2.25" fill="#4f1770"/>
<circle cx="63.3" cy="335.1" r="2.25" fill="#4f1770"/>
<circle cx="63.3" cy="337" r="2.25" fill="#4f1770"/>
<circle cx="63.3" cy="339" r="2.25" fill="#4f1770"/>
<circle cx="69.5" cy="331.3" r="2.25" fill="#ff8c17"/>
<circle cx="69.5" cy="333.2" r="2.25" fill="#ff8c17"/>
<circle cx="69.5" cy="335.1" r="2.25" fill="#ff8c17"/>
<circle cx="69.5" cy="337" r="2.25" fill="#ff8c17"/>
<circle cx="69.5" cy="339" r="2.25" fill="#ff8c17"/>
<circle cx="79.9" cy="429.2" r="2.25" fill="#cc0b36"/>
<circle cx="86.0" cy="415.7" r="2.25" fill="#0b4c8c"/>
<circle cx="86.0" cy="417.4" r="2.25" fill="#0b4c8c"/>
<circle cx="86.0" cy="419.1" r="2.25" fill="#0b4c8c"/>
<circle cx="86.0" cy="420.8" r="2.25" fill="#0b4c8c"/>
<circle cx="86.0" cy="422.5" r="2.25" fill="#0b4c8c"/>
<circle cx="92.3" cy="411" r="2.25" fill="#36b346"/>
<circle cx="92.3" cy="412.9" r="2.25" fill="#36b346"/>
<circle cx="92.3" cy="414.8" r="2.25" fill="#36b346"/>
<circle cx="92.3" cy="421.5" r="2.25" fill="#36b346"/>
<circle cx="92.3" cy="421.5" r="2.25" fill="#36b346"/>
<circle cx="98.4" cy="413.8" r="2.25" fill="#4f1770"/>
<circle cx="98.4" cy="413.8" r="2.25" fill="#4f1770"/>
<circle cx="98.4" cy="413.8" r="2.25" fill="#4f1770"/>
<circle cx="98.4" cy="424" r="2.25" fill="#4f1770"/>
<circle cx="98.4" cy="424" r="2.25" fill="#4f1770"/>
<circle cx="104.6" cy="413.8" r="2.25" fill="#ff8c17"/>
<circle cx="104.6" cy="413.8" r="2.25" fill="#ff8c17"/>
<circle cx="104.6" cy="413.8" r="2.25" fill="#ff8c17"/>
<circle cx="104.6" cy="424" r="2.25" fill="#ff8c17"/>
<circle cx="104.6" cy="424" r="2.25" fill="#ff8c17"/>
<circle cx="115.0" cy="429.2" r="2.25" fill="#cc0b36"/>
<circle cx="121.1" cy="428.2" r="2.25" fill="#0b4c8c"/>
<circle cx="121.1" cy="428.2" r="2.25" fill="#0b4c8c"/>
<circle cx="121.1" cy="428.2" r="2.25" fill="#0b4c8c"/>
<circle cx="121.1" cy="428.2" r="2.25" fill="#0b4c8c"/>
<circle cx="121.1" cy="428.2" r="2.25" fill="#0b4c8c"/>
<circle cx="127.39999999999999" cy="425" r="2.25" fill="#36b346"/>
<circle cx="127.39999999999999" cy="426.5" r="2.25" fill="#36b346"/>
<circle cx="127.39999999999999" cy="428" r="2.25" fill="#36b346"/>
<circle cx="127.39999999999999" cy="429" r="2.25" fill="#36b346"/>
<circle cx="127.39999999999999" cy="430" r="2.25" fill="#36b346"/>
<circle cx="133.5" cy="427" r="2.25" fill="#4f1770"/>
<circle cx="133.5" cy="427" r="2.25" fill="#4f1770"/>
<circle cx="133.5" cy="427" r="2.25" fill="#4f1770"/>
<circle cx="133.5" cy="427" r="2.25" fill="#4f1770"/>
<circle cx="133.5" cy="427" r="2.25" fill="#4f1770"/>
<circle cx="139.7" cy="427" r="2.25" fill="#ff8c17"/>
<circle cx="139.7" cy="427" r="2.25" fill="#ff8c17"/>
<circle cx="139.7" cy="427" r="2.25" fill="#ff8c17"/>
<circle cx="139.7" cy="427" r="2.25" fill="#ff8c17"/>
<circle cx="139.7" cy="427" r="2.25" fill="#ff8c17"/>
<circle cx="150.1" cy="429.2" r="2.25" fill="#cc0b36"/>
<circle cx="156.2" cy="359.4" r="2.25" fill="#0b4c8c"/>
<circle cx="156.2" cy="364.0" r="2.25" fill="#0b4c8c"/>
<circle cx="156.2" cy="366.4" r="2.25" fill="#0b4c8c"/>
<circle cx="156.2" cy="375.8" r="2.25" fill="#0b4c8c"/>
<circle cx="156.2" cy="387.8" r="2.25" fill="#0b4c8c"/>
<circle cx="162.5" cy="370" r="2.25" fill="#36b346"/>
<circle cx="162.5" cy="372.3" r="2.25" fill="#36b346"/>
<circle cx="162.5" cy="374.6" r="2.25" fill="#36b346"/>
<circle cx="162.5" cy="376.8" r="2.25" fill="#36b346"/>
<circle cx="162.5" cy="382.8" r="2.25" fill="#36b346"/>
<circle cx="168.6" cy="380.4" r="2.25" fill="#4f1770"/>
<circle cx="168.6" cy="382.6" r="2.25" fill="#4f1770"/>
<circle cx="168.6" cy="384.9" r="2.25" fill="#4f1770"/>
<circle cx="168.6" cy="387.2" r="2.25" fill="#4f1770"/>
<circle cx="168.6" cy="393.8" r="2.25" fill="#4f1770"/>
<circle cx="174.79999999999998" cy="380.4" r="2.25" fill="#ff8c17"/>
<circle cx="174.79999999999998" cy="382.6" r="2.25" fill="#ff8c17"/>
<circle cx="174.79999999999998" cy="384.9" r="2.25" fill="#ff8c17"/>
<circle cx="174.79999999999998" cy="387.2" r="2.25" fill="#ff8c17"/>
<circle cx="174.79999999999998" cy="393.8" r="2.25" fill="#ff8c17"/>
<circle cx="185.0" cy="429.2" r="2.25" fill="#cc0b36"/>
<circle cx="191.1" cy="323.9" r="2.25" fill="#0b4c8c"/>
<circle cx="191.1" cy="324.6" r="2.25" fill="#0b4c8c"/>
<circle cx="191.1" cy="325.3" r="2.25" fill="#0b4c8c"/>
<circle cx="191.1" cy="326" r="2.25" fill="#0b4c8c"/>
<circle cx="191.1" cy="326.6" r="2.25" fill="#0b4c8c"/>
<circle cx="197.4" cy="328.8" r="2.25" fill="#36b346"/>
<circle cx="197.4" cy="330.6" r="2.25" fill="#36b346"/>
<circle cx="197.4" cy="332.4" r="2.25" fill="#36b346"/>
<circle cx="197.4" cy="334.3" r="2.25" fill="#36b346"/>
<circle cx="197.4" cy="336.2" r="2.25" fill="#36b346"/>
<circle cx="203.5" cy="328.8" r="2.25" fill="#4f1770"/>
<circle cx="203.5" cy="328.8" r="2.25" fill="#4f1770"/>
<circle cx="203.5" cy="336.2" r="2.25" fill="#4f1770"/>
<circle cx="203.5" cy="336.2" r="2.25" fill="#4f1770"/>
<circle cx="203.5" cy="336.2" r="2.25" fill="#4f1770"/>
<circle cx="209.7" cy="328.8" r="2.25" fill="#ff8c17"/>
<circle cx="209.7" cy="328.8" r="2.25" fill="#ff8c17"/>
<circle cx="209.7" cy="336.2" r="2.25" fill="#ff8c17"/>
<circle cx="209.7" cy="336.2" r="2.25" fill="#ff8c17"/>
<circle cx="209.7" cy="336.2" r="2.25" fill="#ff8c17"/>
<line x1="41.0" y1="468.3" x2="41.0" y2="580.2" stroke="#111111" stroke-width="1.4"/>
<line x1="40.4" y1="579.6" x2="213.8" y2="579.6" stroke="#111111" stroke-width="1.4"/>
<line x1="37.8" y1="579.6" x2="41.0" y2="579.6" stroke="#111111" stroke-width="1.1"/>
<text x="35.0" y="582.2" font-size="8.2" text-anchor="end" font-weight="normal" fill="#111111" textLength="4.3" lengthAdjust="spacingAndGlyphs">0</text>
<line x1="37.8" y1="553.075" x2="41.0" y2="553.075" stroke="#111111" stroke-width="1.1"/>
<text x="35.0" y="555.6750000000001" font-size="8.2" text-anchor="end" font-weight="normal" fill="#111111" textLength="8.8" lengthAdjust="spacingAndGlyphs">25</text>
<line x1="37.8" y1="526.55" x2="41.0" y2="526.55" stroke="#111111" stroke-width="1.1"/>
<text x="35.0" y="529.15" font-size="8.2" text-anchor="end" font-weight="normal" fill="#111111" textLength="8.8" lengthAdjust="spacingAndGlyphs">50</text>
<line x1="37.8" y1="500.025" x2="41.0" y2="500.025" stroke="#111111" stroke-width="1.1"/>
<text x="35.0" y="502.625" font-size="8.2" text-anchor="end" font-weight="normal" fill="#111111" textLength="8.8" lengthAdjust="spacingAndGlyphs">75</text>
<line x1="37.8" y1="473.5" x2="41.0" y2="473.5" stroke="#111111" stroke-width="1.1"/>
<text x="35.0" y="476.1" font-size="8.2" text-anchor="end" font-weight="normal" fill="#111111" textLength="12.5" lengthAdjust="spacingAndGlyphs">100</text>
<line x1="56.9" y1="579.6" x2="56.9" y2="582.6" stroke="#111111" stroke-width="1.1"/>
<line x1="92.0" y1="579.6" x2="92.0" y2="582.6" stroke="#111111" stroke-width="1.1"/>
<line x1="127.1" y1="579.6" x2="127.1" y2="582.6" stroke="#111111" stroke-width="1.1"/>
<line x1="162.2" y1="579.6" x2="162.2" y2="582.6" stroke="#111111" stroke-width="1.1"/>
<line x1="197.1" y1="579.6" x2="197.1" y2="582.6" stroke="#111111" stroke-width="1.1"/>
<text x="56.9" y="592.2" font-size="8.2" text-anchor="middle" font-weight="normal" fill="#111111" textLength="16.3" lengthAdjust="spacingAndGlyphs">5 Gy</text>
<text x="56.9" y="601.1" font-size="8.2" text-anchor="middle" font-weight="normal" fill="#111111" textLength="11.4" lengthAdjust="spacingAndGlyphs">TBI</text>
<text x="92.0" y="592.2" font-size="8.2" text-anchor="middle" font-weight="normal" fill="#111111">3</text>
<text x="127.1" y="592.2" font-size="8.2" text-anchor="middle" font-weight="normal" fill="#111111" textLength="10.8" lengthAdjust="spacingAndGlyphs">0.3</text>
<text x="162.2" y="592.2" font-size="8.2" text-anchor="middle" font-weight="normal" fill="#111111">1</text>
<text x="197.1" y="592.2" font-size="8.2" text-anchor="middle" font-weight="normal" fill="#111111">3</text>
<text x="212.7" y="592.2" font-size="8.2" text-anchor="start" font-weight="normal" fill="#111111" textLength="23.0" lengthAdjust="spacingAndGlyphs">mg/kg</text>
<line x1="115.1" y1="596.4" x2="208.9" y2="596.4" stroke="#000" stroke-width="1.3"/>
<text x="92.1" y="606.0" font-size="8.2" text-anchor="middle" font-weight="normal" fill="#111111" textLength="44.6" lengthAdjust="spacingAndGlyphs">Isotype-ADC</text>
<text x="162.3" y="606.0" font-size="8.2" text-anchor="middle" font-weight="normal" fill="#111111" textLength="39.7" lengthAdjust="spacingAndGlyphs">CD45-ADC</text>
<text x="15.2" y="526.55" font-size="10.8" text-anchor="middle" font-weight="normal" fill="#111111" textLength="62.5" lengthAdjust="spacingAndGlyphs" transform="rotate(-90 15.2 526.55)">% CD45.1 of CD3+</text>
<line x1="44.8" y1="579.6" x2="50.9" y2="525.0" stroke="#000" stroke-width="0.85"/>
<line x1="44.8" y1="579.6" x2="50.9" y2="531.8" stroke="#000" stroke-width="0.85"/>
<line x1="44.8" y1="579.6" x2="50.9" y2="536.0" stroke="#000" stroke-width="0.85"/>
<line x1="50.9" y1="525.0" x2="57.2" y2="491.1" stroke="#000" stroke-width="0.85"/>
<line x1="50.9" y1="531.8" x2="57.2" y2="491.1" stroke="#000" stroke-width="0.85"/>
<line x1="50.9" y1="536.0" x2="57.2" y2="491.1" stroke="#000" stroke-width="0.85"/>
<line x1="57.2" y1="491.1" x2="63.3" y2="487.5" stroke="#000" stroke-width="0.85"/>
<line x1="63.3" y1="487.5" x2="69.5" y2="487.5" stroke="#000" stroke-width="0.85"/>
<line x1="79.9" y1="579.6" x2="86.0" y2="576.5" stroke="#000" stroke-width="0.85"/>
<line x1="86.0" y1="576.5" x2="92.3" y2="565.2" stroke="#000" stroke-width="0.85"/>
<line x1="92.3" y1="565.2" x2="98.4" y2="558.1" stroke="#000" stroke-width="0.85"/>
<line x1="92.3" y1="565.2" x2="98.4" y2="562.0" stroke="#000" stroke-width="0.85"/>
<line x1="92.3" y1="565.2" x2="98.4" y2="571.5" stroke="#000" stroke-width="0.85"/>
<line x1="98.4" y1="558.1" x2="104.6" y2="558.1" stroke="#000" stroke-width="0.85"/>
<line x1="98.4" y1="562.0" x2="104.6" y2="562.3" stroke="#000" stroke-width="0.85"/>
<line x1="98.4" y1="571.5" x2="104.6" y2="571.5" stroke="#000" stroke-width="0.85"/>
<line x1="115.0" y1="579.6" x2="121.1" y2="578.8" stroke="#000" stroke-width="0.85"/>
<line x1="121.1" y1="578.8" x2="127.4" y2="579.0" stroke="#000" stroke-width="0.85"/>
<line x1="127.4" y1="579.0" x2="133.5" y2="578.1" stroke="#000" stroke-width="0.85"/>
<line x1="133.5" y1="578.1" x2="139.7" y2="578.1" stroke="#000" stroke-width="0.85"/>
<line x1="150.1" y1="579.6" x2="156.2" y2="577.0" stroke="#000" stroke-width="0.85"/>
<line x1="156.2" y1="577.0" x2="162.5" y2="545.0" stroke="#000" stroke-width="0.85"/>
<line x1="156.2" y1="577.0" x2="162.5" y2="551.2" stroke="#000" stroke-width="0.85"/>
<line x1="162.5" y1="545.0" x2="168.6" y2="537.0" stroke="#000" stroke-width="0.85"/>
<line x1="162.5" y1="551.2" x2="168.6" y2="537.0" stroke="#000" stroke-width="0.85"/>
<line x1="162.5" y1="551.2" x2="168.6" y2="542.1" stroke="#000" stroke-width="0.85"/>
<line x1="162.5" y1="551.2" x2="168.6" y2="546.4" stroke="#000" stroke-width="0.85"/>
<line x1="168.6" y1="537.0" x2="174.8" y2="535.9" stroke="#000" stroke-width="0.85"/>
<line x1="168.6" y1="537.0" x2="174.8" y2="539.8" stroke="#000" stroke-width="0.85"/>
<line x1="168.6" y1="542.1" x2="174.8" y2="539.8" stroke="#000" stroke-width="0.85"/>
<line x1="168.6" y1="542.1" x2="174.8" y2="543.7" stroke="#000" stroke-width="0.85"/>
<line x1="168.6" y1="546.4" x2="174.8" y2="546.4" stroke="#000" stroke-width="0.85"/>
<line x1="185.0" y1="579.6" x2="191.1" y2="574.0" stroke="#000" stroke-width="0.85"/>
<line x1="191.1" y1="574.0" x2="197.4" y2="497.4" stroke="#000" stroke-width="0.85"/>
<line x1="191.1" y1="574.0" x2="197.4" y2="505.2" stroke="#000" stroke-width="0.85"/>
<line x1="191.1" y1="574.0" x2="197.4" y2="512.6" stroke="#000" stroke-width="0.85"/>
<line x1="197.4" y1="497.4" x2="203.5" y2="487.8" stroke="#000" stroke-width="0.85"/>
<line x1="197.4" y1="497.4" x2="203.5" y2="494.5" stroke="#000" stroke-width="0.85"/>
<line x1="197.4" y1="505.2" x2="203.5" y2="494.5" stroke="#000" stroke-width="0.85"/>
<line x1="197.4" y1="512.6" x2="203.5" y2="494.5" stroke="#000" stroke-width="0.85"/>
<line x1="197.4" y1="512.6" x2="203.5" y2="499.6" stroke="#000" stroke-width="0.85"/>
<line x1="203.5" y1="487.8" x2="209.7" y2="487.8" stroke="#000" stroke-width="0.85"/>
<line x1="203.5" y1="494.5" x2="209.7" y2="495.3" stroke="#000" stroke-width="0.85"/>
<line x1="203.5" y1="499.6" x2="209.7" y2="499.6" stroke="#000" stroke-width="0.85"/>
<circle cx="44.8" cy="579.6" r="2.25" fill="#cc0b36"/>
<circle cx="50.9" cy="524.5" r="2.25" fill="#0b4c8c"/>
<circle cx="50.9" cy="524.5" r="2.25" fill="#0b4c8c"/>
<circle cx="50.9" cy="526" r="2.25" fill="#0b4c8c"/>
<circle cx="50.9" cy="531.8" r="2.25" fill="#0b4c8c"/>
<circle cx="50.9" cy="536" r="2.25" fill="#0b4c8c"/>
<circle cx="57.199999999999996" cy="486.1" r="2.25" fill="#36b346"/>
<circle cx="57.199999999999996" cy="488.6" r="2.25" fill="#36b346"/>
<circle cx="57.199999999999996" cy="491.1" r="2.25" fill="#36b346"/>
<circle cx="57.199999999999996" cy="493.6" r="2.25" fill="#36b346"/>
<circle cx="57.199999999999996" cy="496.1" r="2.25" fill="#36b346"/>
<circle cx="63.3" cy="486.5" r="2.25" fill="#4f1770"/>
<circle cx="63.3" cy="487" r="2.25" fill="#4f1770"/>
<circle cx="63.3" cy="487.5" r="2.25" fill="#4f1770"/>
<circle cx="63.3" cy="488" r="2.25" fill="#4f1770"/>
<circle cx="63.3" cy="488.4" r="2.25" fill="#4f1770"/>
<circle cx="69.5" cy="486.5" r="2.25" fill="#ff8c17"/>
<circle cx="69.5" cy="487" r="2.25" fill="#ff8c17"/>
<circle cx="69.5" cy="487.5" r="2.25" fill="#ff8c17"/>
<circle cx="69.5" cy="488" r="2.25" fill="#ff8c17"/>
<circle cx="69.5" cy="488.4" r="2.25" fill="#ff8c17"/>
<circle cx="79.9" cy="579.6" r="2.25" fill="#cc0b36"/>
<circle cx="86.0" cy="575.4" r="2.25" fill="#0b4c8c"/>
<circle cx="86.0" cy="576" r="2.25" fill="#0b4c8c"/>
<circle cx="86.0" cy="576.7" r="2.25" fill="#0b4c8c"/>
<circle cx="86.0" cy="577.3" r="2.25" fill="#0b4c8c"/>
<circle cx="86.0" cy="577.3" r="2.25" fill="#0b4c8c"/>
<circle cx="92.3" cy="561" r="2.25" fill="#36b346"/>
<circle cx="92.3" cy="563" r="2.25" fill="#36b346"/>
<circle cx="92.3" cy="565" r="2.25" fill="#36b346"/>
<circle cx="92.3" cy="567.5" r="2.25" fill="#36b346"/>
<circle cx="92.3" cy="569.6" r="2.25" fill="#36b346"/>
<circle cx="98.4" cy="558.1" r="2.25" fill="#4f1770"/>
<circle cx="98.4" cy="561.9" r="2.25" fill="#4f1770"/>
<circle cx="98.4" cy="562" r="2.25" fill="#4f1770"/>
<circle cx="98.4" cy="570.5" r="2.25" fill="#4f1770"/>
<circle cx="98.4" cy="572.5" r="2.25" fill="#4f1770"/>
<circle cx="104.6" cy="558.1" r="2.25" fill="#ff8c17"/>
<circle cx="104.6" cy="562.6" r="2.25" fill="#ff8c17"/>
<circle cx="104.6" cy="562" r="2.25" fill="#ff8c17"/>
<circle cx="104.6" cy="570.5" r="2.25" fill="#ff8c17"/>
<circle cx="104.6" cy="572.5" r="2.25" fill="#ff8c17"/>
<circle cx="115.0" cy="579.6" r="2.25" fill="#cc0b36"/>
<circle cx="121.1" cy="578.8" r="2.25" fill="#0b4c8c"/>
<circle cx="121.1" cy="578.8" r="2.25" fill="#0b4c8c"/>
<circle cx="121.1" cy="578.8" r="2.25" fill="#0b4c8c"/>
<circle cx="121.1" cy="578.8" r="2.25" fill="#0b4c8c"/>
<circle cx="121.1" cy="578.8" r="2.25" fill="#0b4c8c"/>
<circle cx="127.39999999999999" cy="577.1" r="2.25" fill="#36b346"/>
<circle cx="127.39999999999999" cy="578" r="2.25" fill="#36b346"/>
<circle cx="127.39999999999999" cy="579" r="2.25" fill="#36b346"/>
<circle cx="127.39999999999999" cy="580" r="2.25" fill="#36b346"/>
<circle cx="127.39999999999999" cy="580.9" r="2.25" fill="#36b346"/>
<circle cx="133.5" cy="576" r="2.25" fill="#4f1770"/>
<circle cx="133.5" cy="577" r="2.25" fill="#4f1770"/>
<circle cx="133.5" cy="578" r="2.25" fill="#4f1770"/>
<circle cx="133.5" cy="579" r="2.25" fill="#4f1770"/>
<circle cx="133.5" cy="580.3" r="2.25" fill="#4f1770"/>
<circle cx="139.7" cy="576" r="2.25" fill="#ff8c17"/>
<circle cx="139.7" cy="577" r="2.25" fill="#ff8c17"/>
<circle cx="139.7" cy="578" r="2.25" fill="#ff8c17"/>
<circle cx="139.7" cy="579" r="2.25" fill="#ff8c17"/>
<circle cx="139.7" cy="580.3" r="2.25" fill="#ff8c17"/>
<circle cx="150.1" cy="579.6" r="2.25" fill="#cc0b36"/>
<circle cx="156.2" cy="576" r="2.25" fill="#0b4c8c"/>
<circle cx="156.2" cy="576.5" r="2.25" fill="#0b4c8c"/>
<circle cx="156.2" cy="577" r="2.25" fill="#0b4c8c"/>
<circle cx="156.2" cy="577.5" r="2.25" fill="#0b4c8c"/>
<circle cx="156.2" cy="578.2" r="2.25" fill="#0b4c8c"/>
<circle cx="162.5" cy="545" r="2.25" fill="#36b346"/>
<circle cx="162.5" cy="549.6" r="2.25" fill="#36b346"/>
<circle cx="162.5" cy="550.9" r="2.25" fill="#36b346"/>
<circle cx="162.5" cy="552.2" r="2.25" fill="#36b346"/>
<circle cx="162.5" cy="552.2" r="2.25" fill="#36b346"/>
<circle cx="168.6" cy="535.9" r="2.25" fill="#4f1770"/>
<circle cx="168.6" cy="538" r="2.25" fill="#4f1770"/>
<circle cx="168.6" cy="541" r="2.25" fill="#4f1770"/>
<circle cx="168.6" cy="543.3" r="2.25" fill="#4f1770"/>
<circle cx="168.6" cy="546.4" r="2.25" fill="#4f1770"/>
<circle cx="174.79999999999998" cy="535.9" r="2.25" fill="#ff8c17"/>
<circle cx="174.79999999999998" cy="538.6" r="2.25" fill="#ff8c17"/>
<circle cx="174.79999999999998" cy="541" r="2.25" fill="#ff8c17"/>
<circle cx="174.79999999999998" cy="543.7" r="2.25" fill="#ff8c17"/>
<circle cx="174.79999999999998" cy="546.4" r="2.25" fill="#ff8c17"/>
<circle cx="185.0" cy="579.6" r="2.25" fill="#cc0b36"/>
<circle cx="191.1" cy="571.8" r="2.25" fill="#0b4c8c"/>
<circle cx="191.1" cy="573" r="2.25" fill="#0b4c8c"/>
<circle cx="191.1" cy="574" r="2.25" fill="#0b4c8c"/>
<circle cx="191.1" cy="575" r="2.25" fill="#0b4c8c"/>
<circle cx="191.1" cy="576" r="2.25" fill="#0b4c8c"/>
<circle cx="197.4" cy="496.3" r="2.25" fill="#36b346"/>
<circle cx="197.4" cy="498.5" r="2.25" fill="#36b346"/>
<circle cx="197.4" cy="505.2" r="2.25" fill="#36b346"/>
<circle cx="197.4" cy="511.5" r="2.25" fill="#36b346"/>
<circle cx="197.4" cy="513.7" r="2.25" fill="#36b346"/>
<circle cx="203.5" cy="487.8" r="2.25" fill="#4f1770"/>
<circle cx="203.5" cy="492.8" r="2.25" fill="#4f1770"/>
<circle cx="203.5" cy="494.5" r="2.25" fill="#4f1770"/>
<circle cx="203.5" cy="496.2" r="2.25" fill="#4f1770"/>
<circle cx="203.5" cy="499.6" r="2.25" fill="#4f1770"/>
<circle cx="209.7" cy="487.8" r="2.25" fill="#ff8c17"/>
<circle cx="209.7" cy="493.6" r="2.25" fill="#ff8c17"/>
<circle cx="209.7" cy="495.2" r="2.25" fill="#ff8c17"/>
<circle cx="209.7" cy="497" r="2.25" fill="#ff8c17"/>
<circle cx="209.7" cy="499.6" r="2.25" fill="#ff8c17"/>
<rect x="318.0" y="65.75" width="21.0" height="61.25" fill="#e3899b"/>
<rect x="318.45" y="66.2" width="20.1" height="60.8" fill="none" stroke="#df7289" stroke-width="0.9"/>
<rect x="352.5" y="69.4" width="21.0" height="57.599999999999994" fill="#88a8c6"/>
<rect x="352.95" y="69.85000000000001" width="20.1" height="57.14999999999999" fill="none" stroke="#7297bc" stroke-width="0.9"/>
<rect x="387.0" y="65.3" width="21.0" height="61.7" fill="#9bd9a5"/>
<rect x="387.45" y="65.75" width="20.1" height="61.25" fill="none" stroke="#89d294" stroke-width="0.9"/>
<rect x="421.7" y="67" width="21.0" height="60.0" fill="#ab90b8"/>
<rect x="422.15" y="67.45" width="20.1" height="59.55" fill="none" stroke="#9a7aab" stroke-width="0.9"/>
<rect x="456.3" y="66.25" width="21.0" height="60.75" fill="#ffc57f"/>
<rect x="456.75" y="66.7" width="20.1" height="60.3" fill="none" stroke="#ffbb6c" stroke-width="0.9"/>
<line x1="305.0" y1="30.2" x2="305.0" y2="127.6" stroke="#111111" stroke-width="1.4"/>
<line x1="304.4" y1="127.0" x2="490.0" y2="127.0" stroke="#111111" stroke-width="1.4"/>
<line x1="301.6" y1="127.0" x2="305.0" y2="127.0" stroke="#111111" stroke-width="1.1"/>
<text x="298.8" y="129.6" font-size="8.2" text-anchor="end" font-weight="normal" fill="#111111" textLength="4.3" lengthAdjust="spacingAndGlyphs">0</text>
<line x1="301.6" y1="108.64" x2="305.0" y2="108.64" stroke="#111111" stroke-width="1.1"/>
<text x="298.8" y="111.24" font-size="8.2" text-anchor="end" font-weight="normal" fill="#111111" textLength="4.3" lengthAdjust="spacingAndGlyphs">5</text>
<line x1="301.6" y1="90.28" x2="305.0" y2="90.28" stroke="#111111" stroke-width="1.1"/>
<text x="298.8" y="92.88" font-size="8.2" text-anchor="end" font-weight="normal" fill="#111111" textLength="8.8" lengthAdjust="spacingAndGlyphs">10</text>
<line x1="301.6" y1="71.92" x2="305.0" y2="71.92" stroke="#111111" stroke-width="1.1"/>
<text x="298.8" y="74.52" font-size="8.2" text-anchor="end" font-weight="normal" fill="#111111" textLength="8.8" lengthAdjust="spacingAndGlyphs">15</text>
<line x1="301.6" y1="53.56" x2="305.0" y2="53.56" stroke="#111111" stroke-width="1.1"/>
<text x="298.8" y="56.160000000000004" font-size="8.2" text-anchor="end" font-weight="normal" fill="#111111" textLength="8.8" lengthAdjust="spacingAndGlyphs">20</text>
<line x1="301.6" y1="35.2" x2="305.0" y2="35.2" stroke="#111111" stroke-width="1.1"/>
<text x="298.8" y="37.800000000000004" font-size="8.2" text-anchor="end" font-weight="normal" fill="#111111" textLength="8.8" lengthAdjust="spacingAndGlyphs">25</text>
<line x1="328.5" y1="127.0" x2="328.5" y2="130.0" stroke="#111111" stroke-width="1.1"/>
<line x1="363.0" y1="127.0" x2="363.0" y2="130.0" stroke="#111111" stroke-width="1.1"/>
<line x1="397.5" y1="127.0" x2="397.5" y2="130.0" stroke="#111111" stroke-width="1.1"/>
<line x1="432.2" y1="127.0" x2="432.2" y2="130.0" stroke="#111111" stroke-width="1.1"/>
<line x1="466.8" y1="127.0" x2="466.8" y2="130.0" stroke="#111111" stroke-width="1.1"/>
<text x="328.5" y="138.9" font-size="8.2" text-anchor="middle" font-weight="normal" fill="#111111" textLength="16.3" lengthAdjust="spacingAndGlyphs">5 Gy</text>
<text x="328.5" y="147.6" font-size="8.2" text-anchor="middle" font-weight="normal" fill="#111111" textLength="11.4" lengthAdjust="spacingAndGlyphs">TBI</text>
<text x="363.0" y="138.9" font-size="8.2" text-anchor="middle" font-weight="normal" fill="#111111">3</text>
<text x="397.5" y="138.9" font-size="8.2" text-anchor="middle" font-weight="normal" fill="#111111" textLength="10.8" lengthAdjust="spacingAndGlyphs">0.3</text>
<text x="432.2" y="138.9" font-size="8.2" text-anchor="middle" font-weight="normal" fill="#111111">1</text>
<text x="466.8" y="138.9" font-size="8.2" text-anchor="middle" font-weight="normal" fill="#111111">3</text>
<text x="488.8" y="138.9" font-size="8.2" text-anchor="start" font-weight="normal" fill="#111111" textLength="23.6" lengthAdjust="spacingAndGlyphs">mg/kg</text>
<line x1="387.3" y1="144.6" x2="485.8" y2="144.6" stroke="#000" stroke-width="1.3"/>
<text x="365.3" y="155.1" font-size="8.2" text-anchor="middle" font-weight="normal" fill="#111111" textLength="44.6" lengthAdjust="spacingAndGlyphs">Isotype-ADC</text>
<text x="435.0" y="155.1" font-size="8.2" text-anchor="middle" font-weight="normal" fill="#111111" textLength="39.7" lengthAdjust="spacingAndGlyphs">CD45-ADC</text>
<text x="399.2" y="39.2" font-size="7.6" text-anchor="middle" font-weight="normal" fill="#111111" textLength="12.0" lengthAdjust="spacingAndGlyphs">n.s.</text>
<line x1="328.5" y1="62" x2="328.5" y2="65.75" stroke="#262626" stroke-width="1.15"/>
<line x1="323.1" y1="62" x2="333.9" y2="62" stroke="#1e1e1e" stroke-width="1.2"/>
<line x1="363.0" y1="64" x2="363.0" y2="69.4" stroke="#262626" stroke-width="1.15"/>
<line x1="357.6" y1="64" x2="368.4" y2="64" stroke="#1e1e1e" stroke-width="1.2"/>
<line x1="397.5" y1="59.5" x2="397.5" y2="65.3" stroke="#262626" stroke-width="1.15"/>
<line x1="392.1" y1="59.5" x2="402.9" y2="59.5" stroke="#1e1e1e" stroke-width="1.2"/>
<line x1="432.2" y1="64.5" x2="432.2" y2="67" stroke="#262626" stroke-width="1.15"/>
<line x1="426.8" y1="64.5" x2="437.59999999999997" y2="64.5" stroke="#1e1e1e" stroke-width="1.2"/>
<line x1="466.8" y1="60.5" x2="466.8" y2="66.25" stroke="#262626" stroke-width="1.15"/>
<line x1="461.40000000000003" y1="60.5" x2="472.2" y2="60.5" stroke="#1e1e1e" stroke-width="1.2"/>
<circle cx="319.25" cy="60.5" r="2.4" fill="#cc0b36"/>
<circle cx="328.25" cy="59.25" r="2.4" fill="#cc0b36"/>
<circle cx="337.5" cy="62.25" r="2.4" fill="#cc0b36"/>
<circle cx="328.25" cy="65.5" r="2.4" fill="#cc0b36"/>
<circle cx="328.25" cy="81.25" r="2.4" fill="#cc0b36"/>
<circle cx="353.7" cy="60.2" r="2.4" fill="#0b4c8c"/>
<circle cx="362.8" cy="63.9" r="2.4" fill="#0b4c8c"/>
<circle cx="372.3" cy="61.3" r="2.4" fill="#0b4c8c"/>
<circle cx="363" cy="75.6" r="2.4" fill="#0b4c8c"/>
<circle cx="363" cy="86.25" r="2.4" fill="#0b4c8c"/>
<circle cx="397.6" cy="51.3" r="2.4" fill="#36b346"/>
<circle cx="397.6" cy="57.6" r="2.4" fill="#36b346"/>
<circle cx="397.6" cy="63.2" r="2.4" fill="#36b346"/>
<circle cx="397.6" cy="69.1" r="2.4" fill="#36b346"/>
<circle cx="397.6" cy="85" r="2.4" fill="#36b346"/>
<circle cx="427.5" cy="59.5" r="2.4" fill="#4f1770"/>
<circle cx="436.75" cy="63" r="2.4" fill="#4f1770"/>
<circle cx="427.5" cy="66.25" r="2.4" fill="#4f1770"/>
<circle cx="436.75" cy="71.25" r="2.4" fill="#4f1770"/>
<circle cx="432" cy="77" r="2.4" fill="#4f1770"/>
<circle cx="467" cy="52" r="2.4" fill="#ff8c17"/>
<circle cx="462.5" cy="62.5" r="2.4" fill="#ff8c17"/>
<circle cx="472" cy="60.75" r="2.4" fill="#ff8c17"/>
<circle cx="467" cy="72" r="2.4" fill="#ff8c17"/>
<circle cx="467" cy="85" r="2.4" fill="#ff8c17"/>
<text x="281.9" y="80.8" font-size="9.6" text-anchor="middle" font-weight="normal" fill="#111111" textLength="62.2" lengthAdjust="spacingAndGlyphs" transform="rotate(-90 281.9 80.8)">WBC (10<tspan font-size="6.5" dy="-3.6">3</tspan><tspan dy="3.6"> cells/μL)</tspan></text>
<rect x="317.4" y="217.8" width="21.0" height="59.39999999999998" fill="#e3899b"/>
<rect x="317.84999999999997" y="218.25" width="20.1" height="58.949999999999974" fill="none" stroke="#df7289" stroke-width="0.9"/>
<rect x="351.9" y="224" width="21.0" height="53.19999999999999" fill="#88a8c6"/>
<rect x="352.34999999999997" y="224.45" width="20.1" height="52.749999999999986" fill="none" stroke="#7297bc" stroke-width="0.9"/>
<rect x="386.4" y="222.8" width="21.0" height="54.39999999999998" fill="#9bd9a5"/>
<rect x="386.84999999999997" y="223.25" width="20.1" height="53.949999999999974" fill="none" stroke="#89d294" stroke-width="0.9"/>
<rect x="421.09999999999997" y="219.8" width="21.0" height="57.39999999999998" fill="#ab90b8"/>
<rect x="421.54999999999995" y="220.25" width="20.1" height="56.949999999999974" fill="none" stroke="#9a7aab" stroke-width="0.9"/>
<rect x="455.7" y="230" width="21.0" height="47.19999999999999" fill="#ffc57f"/>
<rect x="456.15" y="230.45" width="20.1" height="46.749999999999986" fill="none" stroke="#ffbb6c" stroke-width="0.9"/>
<line x1="305.0" y1="180.2" x2="305.0" y2="277.8" stroke="#111111" stroke-width="1.4"/>
<line x1="304.4" y1="277.2" x2="490.0" y2="277.2" stroke="#111111" stroke-width="1.4"/>
<line x1="301.6" y1="277.2" x2="305.0" y2="277.2" stroke="#111111" stroke-width="1.1"/>
<text x="298.8" y="279.8" font-size="8.2" text-anchor="end" font-weight="normal" fill="#111111" textLength="4.3" lengthAdjust="spacingAndGlyphs">0</text>
<line x1="301.6" y1="254.25" x2="305.0" y2="254.25" stroke="#111111" stroke-width="1.1"/>
<text x="298.8" y="256.85" font-size="8.2" text-anchor="end" font-weight="normal" fill="#111111" textLength="4.3" lengthAdjust="spacingAndGlyphs">2</text>
<line x1="301.6" y1="231.3" x2="305.0" y2="231.3" stroke="#111111" stroke-width="1.1"/>
<text x="298.8" y="233.9" font-size="8.2" text-anchor="end" font-weight="normal" fill="#111111" textLength="4.3" lengthAdjust="spacingAndGlyphs">4</text>
<line x1="301.6" y1="208.35" x2="305.0" y2="208.35" stroke="#111111" stroke-width="1.1"/>
<text x="298.8" y="210.95" font-size="8.2" text-anchor="end" font-weight="normal" fill="#111111" textLength="4.3" lengthAdjust="spacingAndGlyphs">6</text>
<line x1="301.6" y1="185.4" x2="305.0" y2="185.4" stroke="#111111" stroke-width="1.1"/>
<text x="298.8" y="188.0" font-size="8.2" text-anchor="end" font-weight="normal" fill="#111111" textLength="4.3" lengthAdjust="spacingAndGlyphs">8</text>
<line x1="327.9" y1="277.2" x2="327.9" y2="280.2" stroke="#111111" stroke-width="1.1"/>
<line x1="362.4" y1="277.2" x2="362.4" y2="280.2" stroke="#111111" stroke-width="1.1"/>
<line x1="396.9" y1="277.2" x2="396.9" y2="280.2" stroke="#111111" stroke-width="1.1"/>
<line x1="431.59999999999997" y1="277.2" x2="431.59999999999997" y2="280.2" stroke="#111111" stroke-width="1.1"/>
<line x1="466.2" y1="277.2" x2="466.2" y2="280.2" stroke="#111111" stroke-width="1.1"/>
<text x="327.9" y="289.4" font-size="8.2" text-anchor="middle" font-weight="normal" fill="#111111" textLength="16.3" lengthAdjust="spacingAndGlyphs">5 Gy</text>
<text x="327.9" y="298.8" font-size="8.2" text-anchor="middle" font-weight="normal" fill="#111111" textLength="11.4" lengthAdjust="spacingAndGlyphs">TBI</text>
<text x="362.4" y="289.4" font-size="8.2" text-anchor="middle" font-weight="normal" fill="#111111">3</text>
<text x="396.9" y="289.4" font-size="8.2" text-anchor="middle" font-weight="normal" fill="#111111" textLength="10.8" lengthAdjust="spacingAndGlyphs">0.3</text>
<text x="431.59999999999997" y="289.4" font-size="8.2" text-anchor="middle" font-weight="normal" fill="#111111">1</text>
<text x="466.2" y="289.4" font-size="8.2" text-anchor="middle" font-weight="normal" fill="#111111">3</text>
<text x="488.8" y="289.4" font-size="8.2" text-anchor="start" font-weight="normal" fill="#111111" textLength="23.6" lengthAdjust="spacingAndGlyphs">mg/kg</text>
<line x1="386.7" y1="294.7" x2="485.8" y2="294.7" stroke="#000" stroke-width="1.3"/>
<text x="364.7" y="305.0" font-size="8.2" text-anchor="middle" font-weight="normal" fill="#111111" textLength="44.6" lengthAdjust="spacingAndGlyphs">Isotype-ADC</text>
<text x="434.4" y="305.0" font-size="8.2" text-anchor="middle" font-weight="normal" fill="#111111" textLength="39.7" lengthAdjust="spacingAndGlyphs">CD45-ADC</text>
<text x="399.2" y="189.39999999999998" font-size="7.6" text-anchor="middle" font-weight="normal" fill="#111111" textLength="12.0" lengthAdjust="spacingAndGlyphs">n.s.</text>
<line x1="327.9" y1="211.7" x2="327.9" y2="217.8" stroke="#262626" stroke-width="1.15"/>
<line x1="322.5" y1="211.7" x2="333.29999999999995" y2="211.7" stroke="#1e1e1e" stroke-width="1.2"/>
<line x1="362.4" y1="220.6" x2="362.4" y2="224" stroke="#262626" stroke-width="1.15"/>
<line x1="357.0" y1="220.6" x2="367.79999999999995" y2="220.6" stroke="#1e1e1e" stroke-width="1.2"/>
<line x1="396.9" y1="216.9" x2="396.9" y2="222.8" stroke="#262626" stroke-width="1.15"/>
<line x1="391.5" y1="216.9" x2="402.29999999999995" y2="216.9" stroke="#1e1e1e" stroke-width="1.2"/>
<line x1="431.59999999999997" y1="215" x2="431.59999999999997" y2="219.8" stroke="#262626" stroke-width="1.15"/>
<line x1="426.2" y1="215" x2="436.99999999999994" y2="215" stroke="#1e1e1e" stroke-width="1.2"/>
<line x1="466.2" y1="225.2" x2="466.2" y2="230" stroke="#262626" stroke-width="1.15"/>
<line x1="460.8" y1="225.2" x2="471.59999999999997" y2="225.2" stroke="#1e1e1e" stroke-width="1.2"/>
<circle cx="319.1" cy="210.2" r="2.4" fill="#cc0b36"/>
<circle cx="328.3" cy="215.4" r="2.4" fill="#cc0b36"/>
<circle cx="336.9" cy="207.7" r="2.4" fill="#cc0b36"/>
<circle cx="337.5" cy="213.8" r="2.4" fill="#cc0b36"/>
<circle cx="327.7" cy="240" r="2.4" fill="#cc0b36"/>
<circle cx="357.8" cy="215.4" r="2.4" fill="#0b4c8c"/>
<circle cx="367.1" cy="215.4" r="2.4" fill="#0b4c8c"/>
<circle cx="362.5" cy="223.1" r="2.4" fill="#0b4c8c"/>
<circle cx="357.8" cy="233.8" r="2.4" fill="#0b4c8c"/>
<circle cx="367.1" cy="230.2" r="2.4" fill="#0b4c8c"/>
<circle cx="397.5" cy="204.5" r="2.4" fill="#36b346"/>
<circle cx="392.7" cy="221.2" r="2.4" fill="#36b346"/>
<circle cx="402.1" cy="217.9" r="2.4" fill="#36b346"/>
<circle cx="397.5" cy="227.9" r="2.4" fill="#36b346"/>
<circle cx="397.5" cy="240.8" r="2.4" fill="#36b346"/>
<circle cx="432" cy="207.7" r="2.4" fill="#4f1770"/>
<circle cx="432" cy="213.1" r="2.4" fill="#4f1770"/>
<circle cx="427.1" cy="219.3" r="2.4" fill="#4f1770"/>
<circle cx="436.5" cy="222.5" r="2.4" fill="#4f1770"/>
<circle cx="432" cy="234.6" r="2.4" fill="#4f1770"/>
<circle cx="466.2" cy="219" r="2.4" fill="#ff8c17"/>
<circle cx="461.6" cy="225.2" r="2.4" fill="#ff8c17"/>
<circle cx="471.5" cy="224.7" r="2.4" fill="#ff8c17"/>
<circle cx="466.2" cy="234.6" r="2.4" fill="#ff8c17"/>
<circle cx="466.2" cy="245.9" r="2.4" fill="#ff8c17"/>
<text x="288.0" y="231.0" font-size="9.4" text-anchor="middle" font-weight="normal" fill="#111111" textLength="86.1" lengthAdjust="spacingAndGlyphs" transform="rotate(-90 288.0 231.0)">Neutrophils (10<tspan font-size="6.5" dy="-3.6">3</tspan><tspan dy="3.6"> cells/μL)</tspan></text>
<rect x="317.2" y="369.1" width="21.0" height="59.5" fill="#e3899b"/>
<rect x="317.65" y="369.55" width="20.1" height="59.05" fill="none" stroke="#df7289" stroke-width="0.9"/>
<rect x="351.7" y="370.6" width="21.0" height="58.0" fill="#88a8c6"/>
<rect x="352.15" y="371.05" width="20.1" height="57.55" fill="none" stroke="#7297bc" stroke-width="0.9"/>
<rect x="386.2" y="360.9" width="21.0" height="67.70000000000005" fill="#9bd9a5"/>
<rect x="386.65" y="361.34999999999997" width="20.1" height="67.25000000000004" fill="none" stroke="#89d294" stroke-width="0.9"/>
<rect x="420.9" y="369.8" width="21.0" height="58.80000000000001" fill="#ab90b8"/>
<rect x="421.34999999999997" y="370.25" width="20.1" height="58.35000000000001" fill="none" stroke="#9a7aab" stroke-width="0.9"/>
<rect x="455.5" y="359" width="21.0" height="69.60000000000002" fill="#ffc57f"/>
<rect x="455.95" y="359.45" width="20.1" height="69.15000000000002" fill="none" stroke="#ffbb6c" stroke-width="0.9"/>
<line x1="305.0" y1="331.9" x2="305.0" y2="429.20000000000005" stroke="#111111" stroke-width="1.4"/>
<line x1="304.4" y1="428.6" x2="490.0" y2="428.6" stroke="#111111" stroke-width="1.4"/>
<line x1="301.6" y1="428.6" x2="305.0" y2="428.6" stroke="#111111" stroke-width="1.1"/>
<text x="298.8" y="431.20000000000005" font-size="8.2" text-anchor="end" font-weight="normal" fill="#111111" textLength="4.3" lengthAdjust="spacingAndGlyphs">0</text>
<line x1="301.6" y1="405.52500000000003" x2="305.0" y2="405.52500000000003" stroke="#111111" stroke-width="1.1"/>
<text x="298.8" y="408.12500000000006" font-size="8.2" text-anchor="end" font-weight="normal" fill="#111111" textLength="4.3" lengthAdjust="spacingAndGlyphs">2</text>
<line x1="301.6" y1="382.45000000000005" x2="305.0" y2="382.45000000000005" stroke="#111111" stroke-width="1.1"/>
<text x="298.8" y="385.05000000000007" font-size="8.2" text-anchor="end" font-weight="normal" fill="#111111" textLength="4.3" lengthAdjust="spacingAndGlyphs">4</text>
<line x1="301.6" y1="359.375" x2="305.0" y2="359.375" stroke="#111111" stroke-width="1.1"/>
<text x="298.8" y="361.975" font-size="8.2" text-anchor="end" font-weight="normal" fill="#111111" textLength="4.3" lengthAdjust="spacingAndGlyphs">6</text>
<line x1="301.6" y1="336.3" x2="305.0" y2="336.3" stroke="#111111" stroke-width="1.1"/>
<text x="298.8" y="338.90000000000003" font-size="8.2" text-anchor="end" font-weight="normal" fill="#111111" textLength="4.3" lengthAdjust="spacingAndGlyphs">8</text>
<line x1="327.7" y1="428.6" x2="327.7" y2="431.6" stroke="#111111" stroke-width="1.1"/>
<line x1="362.2" y1="428.6" x2="362.2" y2="431.6" stroke="#111111" stroke-width="1.1"/>
<line x1="396.7" y1="428.6" x2="396.7" y2="431.6" stroke="#111111" stroke-width="1.1"/>
<line x1="431.4" y1="428.6" x2="431.4" y2="431.6" stroke="#111111" stroke-width="1.1"/>
<line x1="466.0" y1="428.6" x2="466.0" y2="431.6" stroke="#111111" stroke-width="1.1"/>
<text x="327.7" y="441.1" font-size="8.2" text-anchor="middle" font-weight="normal" fill="#111111" textLength="16.3" lengthAdjust="spacingAndGlyphs">5 Gy</text>
<text x="327.7" y="450.0" font-size="8.2" text-anchor="middle" font-weight="normal" fill="#111111" textLength="11.4" lengthAdjust="spacingAndGlyphs">TBI</text>
<text x="362.2" y="441.1" font-size="8.2" text-anchor="middle" font-weight="normal" fill="#111111">3</text>
<text x="396.7" y="441.1" font-size="8.2" text-anchor="middle" font-weight="normal" fill="#111111" textLength="10.8" lengthAdjust="spacingAndGlyphs">0.3</text>
<text x="431.4" y="441.1" font-size="8.2" text-anchor="middle" font-weight="normal" fill="#111111">1</text>
<text x="466.0" y="441.1" font-size="8.2" text-anchor="middle" font-weight="normal" fill="#111111">3</text>
<text x="488.8" y="441.1" font-size="8.2" text-anchor="start" font-weight="normal" fill="#111111" textLength="23.6" lengthAdjust="spacingAndGlyphs">mg/kg</text>
<line x1="386.5" y1="445.8" x2="485.8" y2="445.8" stroke="#000" stroke-width="1.3"/>
<text x="364.5" y="455.90000000000003" font-size="8.2" text-anchor="middle" font-weight="normal" fill="#111111" textLength="44.6" lengthAdjust="spacingAndGlyphs">Isotype-ADC</text>
<text x="434.2" y="455.90000000000003" font-size="8.2" text-anchor="middle" font-weight="normal" fill="#111111" textLength="39.7" lengthAdjust="spacingAndGlyphs">CD45-ADC</text>
<text x="399.2" y="340.8" font-size="7.6" text-anchor="middle" font-weight="normal" fill="#111111" textLength="12.0" lengthAdjust="spacingAndGlyphs">n.s.</text>
<line x1="327.7" y1="364.8" x2="327.7" y2="369.1" stroke="#262626" stroke-width="1.15"/>
<line x1="322.3" y1="364.8" x2="333.09999999999997" y2="364.8" stroke="#1e1e1e" stroke-width="1.2"/>
<line x1="362.2" y1="363.8" x2="362.2" y2="370.6" stroke="#262626" stroke-width="1.15"/>
<line x1="356.8" y1="363.8" x2="367.59999999999997" y2="363.8" stroke="#1e1e1e" stroke-width="1.2"/>
<line x1="396.7" y1="355.8" x2="396.7" y2="360.9" stroke="#262626" stroke-width="1.15"/>
<line x1="391.3" y1="355.8" x2="402.09999999999997" y2="355.8" stroke="#1e1e1e" stroke-width="1.2"/>
<line x1="431.4" y1="367.9" x2="431.4" y2="369.8" stroke="#262626" stroke-width="1.15"/>
<line x1="426.0" y1="367.9" x2="436.79999999999995" y2="367.9" stroke="#1e1e1e" stroke-width="1.2"/>
<line x1="466.0" y1="352.3" x2="466.0" y2="359" stroke="#262626" stroke-width="1.15"/>
<line x1="460.6" y1="352.3" x2="471.4" y2="352.3" stroke="#1e1e1e" stroke-width="1.2"/>
<circle cx="318.5" cy="360.2" r="2.4" fill="#cc0b36"/>
<circle cx="327.7" cy="365.4" r="2.4" fill="#cc0b36"/>
<circle cx="336.9" cy="362.3" r="2.4" fill="#cc0b36"/>
<circle cx="323.1" cy="378.3" r="2.4" fill="#cc0b36"/>
<circle cx="332.3" cy="375.5" r="2.4" fill="#cc0b36"/>
<circle cx="357.8" cy="358.3" r="2.4" fill="#0b4c8c"/>
<circle cx="367.1" cy="359.8" r="2.4" fill="#0b4c8c"/>
<circle cx="357.8" cy="364" r="2.4" fill="#0b4c8c"/>
<circle cx="362.5" cy="377.1" r="2.4" fill="#0b4c8c"/>
<circle cx="362.5" cy="392.5" r="2.4" fill="#0b4c8c"/>
<circle cx="392.1" cy="352.8" r="2.4" fill="#36b346"/>
<circle cx="401.5" cy="353.7" r="2.4" fill="#36b346"/>
<circle cx="392.1" cy="359.6" r="2.4" fill="#36b346"/>
<circle cx="401.5" cy="360.9" r="2.4" fill="#36b346"/>
<circle cx="397" cy="377.1" r="2.4" fill="#36b346"/>
<circle cx="427.1" cy="363.9" r="2.4" fill="#4f1770"/>
<circle cx="436" cy="364.4" r="2.4" fill="#4f1770"/>
<circle cx="432" cy="371.2" r="2.4" fill="#4f1770"/>
<circle cx="422.3" cy="375.7" r="2.4" fill="#4f1770"/>
<circle cx="441.4" cy="373.8" r="2.4" fill="#4f1770"/>
<circle cx="461.3" cy="346.1" r="2.4" fill="#ff8c17"/>
<circle cx="471" cy="349.6" r="2.4" fill="#ff8c17"/>
<circle cx="461.3" cy="355.8" r="2.4" fill="#ff8c17"/>
<circle cx="471" cy="359.8" r="2.4" fill="#ff8c17"/>
<circle cx="466.2" cy="381.9" r="2.4" fill="#ff8c17"/>
<text x="288.0" y="382.40000000000003" font-size="9.4" text-anchor="middle" font-weight="normal" fill="#111111" textLength="89.9" lengthAdjust="spacingAndGlyphs" transform="rotate(-90 288.0 382.40000000000003)">Lymphocytes (10<tspan font-size="6.5" dy="-3.6">3</tspan><tspan dy="3.6"> cells/μL)</tspan></text>
<rect x="317.4" y="534.8" width="21.0" height="45.0" fill="#e3899b"/>
<rect x="317.84999999999997" y="535.25" width="20.1" height="44.55" fill="none" stroke="#df7289" stroke-width="0.9"/>
<rect x="351.9" y="536.3" width="21.0" height="43.5" fill="#88a8c6"/>
<rect x="352.34999999999997" y="536.75" width="20.1" height="43.05" fill="none" stroke="#7297bc" stroke-width="0.9"/>
<rect x="386.4" y="541.4" width="21.0" height="38.39999999999998" fill="#9bd9a5"/>
<rect x="386.84999999999997" y="541.85" width="20.1" height="37.949999999999974" fill="none" stroke="#89d294" stroke-width="0.9"/>
<rect x="421.09999999999997" y="535.2" width="21.0" height="44.59999999999991" fill="#ab90b8"/>
<rect x="421.54999999999995" y="535.6500000000001" width="20.1" height="44.149999999999906" fill="none" stroke="#9a7aab" stroke-width="0.9"/>
<rect x="455.7" y="539.2" width="21.0" height="40.59999999999991" fill="#ffc57f"/>
<rect x="456.15" y="539.6500000000001" width="20.1" height="40.149999999999906" fill="none" stroke="#ffbb6c" stroke-width="0.9"/>
<line x1="305.0" y1="483.1" x2="305.0" y2="580.4" stroke="#111111" stroke-width="1.4"/>
<line x1="304.4" y1="579.8" x2="490.0" y2="579.8" stroke="#111111" stroke-width="1.4"/>
<line x1="301.6" y1="579.8" x2="305.0" y2="579.8" stroke="#111111" stroke-width="1.1"/>
<text x="298.8" y="582.4" font-size="8.2" text-anchor="end" font-weight="normal" fill="#111111" textLength="11.0" lengthAdjust="spacingAndGlyphs">0.0</text>
<line x1="301.6" y1="549.1333333333333" x2="305.0" y2="549.1333333333333" stroke="#111111" stroke-width="1.1"/>
<text x="298.8" y="551.7333333333333" font-size="8.2" text-anchor="end" font-weight="normal" fill="#111111" textLength="11.0" lengthAdjust="spacingAndGlyphs">0.5</text>
<line x1="301.6" y1="518.4666666666667" x2="305.0" y2="518.4666666666667" stroke="#111111" stroke-width="1.1"/>
<text x="298.8" y="521.0666666666667" font-size="8.2" text-anchor="end" font-weight="normal" fill="#111111" textLength="11.0" lengthAdjust="spacingAndGlyphs">1.0</text>
<line x1="301.6" y1="487.8" x2="305.0" y2="487.8" stroke="#111111" stroke-width="1.1"/>
<text x="298.8" y="490.40000000000003" font-size="8.2" text-anchor="end" font-weight="normal" fill="#111111" textLength="11.0" lengthAdjust="spacingAndGlyphs">1.5</text>
<line x1="327.9" y1="579.8" x2="327.9" y2="582.8" stroke="#111111" stroke-width="1.1"/>
<line x1="362.4" y1="579.8" x2="362.4" y2="582.8" stroke="#111111" stroke-width="1.1"/>
<line x1="396.9" y1="579.8" x2="396.9" y2="582.8" stroke="#111111" stroke-width="1.1"/>
<line x1="431.59999999999997" y1="579.8" x2="431.59999999999997" y2="582.8" stroke="#111111" stroke-width="1.1"/>
<line x1="466.2" y1="579.8" x2="466.2" y2="582.8" stroke="#111111" stroke-width="1.1"/>
<text x="327.9" y="591.5" font-size="8.2" text-anchor="middle" font-weight="normal" fill="#111111" textLength="16.3" lengthAdjust="spacingAndGlyphs">5 Gy</text>
<text x="327.9" y="601.6999999999999" font-size="8.2" text-anchor="middle" font-weight="normal" fill="#111111" textLength="11.4" lengthAdjust="spacingAndGlyphs">TBI</text>
<text x="362.4" y="591.5" font-size="8.2" text-anchor="middle" font-weight="normal" fill="#111111">3</text>
<text x="396.9" y="591.5" font-size="8.2" text-anchor="middle" font-weight="normal" fill="#111111" textLength="10.8" lengthAdjust="spacingAndGlyphs">0.3</text>
<text x="431.59999999999997" y="591.5" font-size="8.2" text-anchor="middle" font-weight="normal" fill="#111111">1</text>
<text x="466.2" y="591.5" font-size="8.2" text-anchor="middle" font-weight="normal" fill="#111111">3</text>
<text x="488.8" y="591.5" font-size="8.2" text-anchor="start" font-weight="normal" fill="#111111" textLength="23.6" lengthAdjust="spacingAndGlyphs">mg/kg</text>
<line x1="386.7" y1="597.0" x2="485.8" y2="597.0" stroke="#000" stroke-width="1.3"/>
<text x="364.7" y="607.4" font-size="8.2" text-anchor="middle" font-weight="normal" fill="#111111" textLength="44.6" lengthAdjust="spacingAndGlyphs">Isotype-ADC</text>
<text x="434.4" y="607.4" font-size="8.2" text-anchor="middle" font-weight="normal" fill="#111111" textLength="39.7" lengthAdjust="spacingAndGlyphs">CD45-ADC</text>
<text x="399.2" y="491.19999999999993" font-size="7.6" text-anchor="middle" font-weight="normal" fill="#111111" textLength="12.0" lengthAdjust="spacingAndGlyphs">n.s.</text>
<line x1="327.9" y1="529.5" x2="327.9" y2="534.8" stroke="#262626" stroke-width="1.15"/>
<line x1="322.5" y1="529.5" x2="333.29999999999995" y2="529.5" stroke="#1e1e1e" stroke-width="1.2"/>
<line x1="362.4" y1="532.9" x2="362.4" y2="536.3" stroke="#262626" stroke-width="1.15"/>
<line x1="357.0" y1="532.9" x2="367.79999999999995" y2="532.9" stroke="#1e1e1e" stroke-width="1.2"/>
<line x1="396.9" y1="535.2" x2="396.9" y2="541.4" stroke="#262626" stroke-width="1.15"/>
<line x1="391.5" y1="535.2" x2="402.29999999999995" y2="535.2" stroke="#1e1e1e" stroke-width="1.2"/>
<line x1="431.59999999999997" y1="527.3" x2="431.59999999999997" y2="535.2" stroke="#262626" stroke-width="1.15"/>
<line x1="426.2" y1="527.3" x2="436.99999999999994" y2="527.3" stroke="#1e1e1e" stroke-width="1.2"/>
<line x1="466.2" y1="533.3" x2="466.2" y2="539.2" stroke="#262626" stroke-width="1.15"/>
<line x1="460.8" y1="533.3" x2="471.59999999999997" y2="533.3" stroke="#1e1e1e" stroke-width="1.2"/>
<circle cx="328.3" cy="522.2" r="2.4" fill="#cc0b36"/>
<circle cx="318.5" cy="531.4" r="2.4" fill="#cc0b36"/>
<circle cx="336.9" cy="532.9" r="2.4" fill="#cc0b36"/>
<circle cx="328.3" cy="533" r="2.4" fill="#cc0b36"/>
<circle cx="328.3" cy="550.2" r="2.4" fill="#cc0b36"/>
<circle cx="357.8" cy="528.3" r="2.4" fill="#0b4c8c"/>
<circle cx="367.1" cy="530.2" r="2.4" fill="#0b4c8c"/>
<circle cx="357.8" cy="537.5" r="2.4" fill="#0b4c8c"/>
<circle cx="367.1" cy="537.5" r="2.4" fill="#0b4c8c"/>
<circle cx="362.5" cy="545.2" r="2.4" fill="#0b4c8c"/>
<circle cx="392.7" cy="528.7" r="2.4" fill="#36b346"/>
<circle cx="402.1" cy="531.1" r="2.4" fill="#36b346"/>
<circle cx="397" cy="539.2" r="2.4" fill="#36b346"/>
<circle cx="397" cy="544.9" r="2.4" fill="#36b346"/>
<circle cx="397" cy="561.5" r="2.4" fill="#36b346"/>
<circle cx="431.7" cy="510.4" r="2.4" fill="#4f1770"/>
<circle cx="431.7" cy="527.9" r="2.4" fill="#4f1770"/>
<circle cx="431.7" cy="540.8" r="2.4" fill="#4f1770"/>
<circle cx="427.1" cy="546.7" r="2.4" fill="#4f1770"/>
<circle cx="436.5" cy="546.7" r="2.4" fill="#4f1770"/>
<circle cx="466.2" cy="521.2" r="2.4" fill="#ff8c17"/>
<circle cx="466.2" cy="531.9" r="2.4" fill="#ff8c17"/>
<circle cx="461.6" cy="542.7" r="2.4" fill="#ff8c17"/>
<circle cx="471.5" cy="546.7" r="2.4" fill="#ff8c17"/>
<circle cx="466.7" cy="552.1" r="2.4" fill="#ff8c17"/>
<text x="281.0" y="533.5999999999999" font-size="9.4" text-anchor="middle" font-weight="normal" fill="#111111" textLength="82.9" lengthAdjust="spacingAndGlyphs" transform="rotate(-90 281.0 533.5999999999999)">Monocytes (10<tspan font-size="6.5" dy="-3.6">3</tspan><tspan dy="3.6"> cells/μL)</tspan></text>
<text x="6.6" y="15.5" font-size="12.3" text-anchor="start" font-weight="bold" fill="#000" textLength="8.3" lengthAdjust="spacingAndGlyphs" style="stroke:#000;stroke-width:0.5px">A</text>
<text x="6.9" y="165.9" font-size="12.3" text-anchor="start" font-weight="bold" fill="#000" textLength="7.3" lengthAdjust="spacingAndGlyphs" style="stroke:#000;stroke-width:0.5px">B</text>
<text x="272.6" y="15.7" font-size="12.3" text-anchor="start" font-weight="bold" fill="#000" textLength="7.6" lengthAdjust="spacingAndGlyphs" style="stroke:#000;stroke-width:0.5px">C</text>
<line x1="7.5" y1="616.2" x2="18.75" y2="616.2" stroke="#222" stroke-width="1.2"/>
<circle cx="13.25" cy="616.2" r="3.3" fill="#cc0b36"/>
<text x="22.5" y="618.7" font-size="7.7" text-anchor="start" font-weight="normal" fill="#111111" textLength="24.5" lengthAdjust="spacingAndGlyphs">Week 0</text>
<line x1="53.75" y1="616.2" x2="65.5" y2="616.2" stroke="#222" stroke-width="1.2"/>
<circle cx="60.0" cy="616.2" r="3.3" fill="#0b4c8c"/>
<text x="68.75" y="618.7" font-size="7.7" text-anchor="start" font-weight="normal" fill="#111111" textLength="25.0" lengthAdjust="spacingAndGlyphs">Week 4</text>
<line x1="101.25" y1="616.2" x2="113.0" y2="616.2" stroke="#222" stroke-width="1.2"/>
<circle cx="107.5" cy="616.2" r="3.3" fill="#36b346"/>
<text x="116.25" y="618.7" font-size="7.7" text-anchor="start" font-weight="normal" fill="#111111" textLength="24.5" lengthAdjust="spacingAndGlyphs">Week 8</text>
<line x1="148.75" y1="616.2" x2="160.0" y2="616.2" stroke="#222" stroke-width="1.2"/>
<circle cx="155.0" cy="616.2" r="3.3" fill="#4f1770"/>
<text x="163.75" y="618.7" font-size="7.7" text-anchor="start" font-weight="normal" fill="#111111" textLength="28.75" lengthAdjust="spacingAndGlyphs">Week 12</text>
<line x1="199.2" y1="616.2" x2="211.3" y2="616.2" stroke="#222" stroke-width="1.2"/>
<circle cx="205.1" cy="616.2" r="3.3" fill="#ff8c17"/>
<text x="214.6" y="618.7" font-size="7.7" text-anchor="start" font-weight="normal" fill="#111111" textLength="28.2" lengthAdjust="spacingAndGlyphs">Week 16</text>
</svg>
<div class="frame"></div>
</body></html>
